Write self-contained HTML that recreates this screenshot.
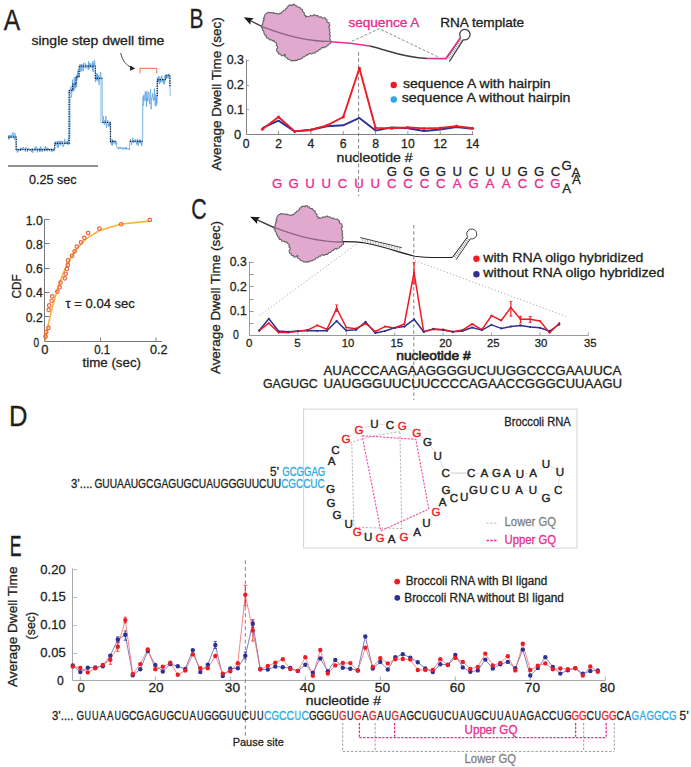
<!DOCTYPE html>
<html><head><meta charset="utf-8"><title>Figure</title>
<style>
html,body{margin:0;padding:0;background:#fff;}
body{width:691px;height:767px;overflow:hidden;}
svg{display:block;}
text{font-family:"Liberation Sans", sans-serif;}
</style></head>
<body>
<svg width="691" height="767" viewBox="0 0 691 767">
<rect width="691" height="767" fill="#fff"/>
<text x="3.80" y="30.40" font-size="29.14" fill="#231f20" stroke="#231f20" stroke-width="0.3" text-anchor="start" textLength="16.40" lengthAdjust="spacingAndGlyphs">A</text>
<text x="189.60" y="27.50" font-size="27.71" fill="#231f20" stroke="#231f20" stroke-width="0.3" text-anchor="start" textLength="14.00" lengthAdjust="spacingAndGlyphs">B</text>
<text x="191.20" y="218.50" font-size="29.0" fill="#231f20" stroke="#231f20" stroke-width="0.3" text-anchor="start" textLength="15.40" lengthAdjust="spacingAndGlyphs">C</text>
<text x="9.00" y="425.60" font-size="28.71" fill="#231f20" stroke="#231f20" stroke-width="0.3" text-anchor="start" textLength="18.50" lengthAdjust="spacingAndGlyphs">D</text>
<text x="9.80" y="555.60" font-size="28.57" fill="#231f20" stroke="#231f20" stroke-width="0.3" text-anchor="start" textLength="11.80" lengthAdjust="spacingAndGlyphs">E</text>
<polyline points="8.20,135.52 8.52,136.68 8.84,139.59 9.16,134.99 9.48,138.77 9.80,137.77 10.12,135.19 10.44,137.63 10.76,137.02 11.08,134.69 11.40,135.70 11.72,136.95 12.04,138.06 12.36,133.75 12.68,133.29 13.00,132.06 13.32,137.12 13.64,135.00 13.96,134.91 14.28,137.67 14.60,139.66 14.92,133.00 15.24,134.89 15.56,137.29 15.88,136.71 16.20,150.81 16.52,150.51 16.84,149.05 17.16,151.48 17.49,152.82 17.81,150.65 18.13,148.67 18.45,151.34 18.77,149.76 19.09,150.33 19.42,149.29 19.74,149.64 20.06,150.72 20.38,147.86 20.70,150.82 21.02,148.17 21.35,150.07 21.67,147.76 21.99,147.87 22.31,149.49 22.63,149.43 22.95,148.79 23.28,146.99 23.60,149.02 23.92,148.30 24.24,148.52 24.56,149.72 24.88,149.64 25.21,150.15 25.53,151.87 25.85,147.06 26.17,149.52 26.49,148.64 26.81,149.57 27.14,149.06 27.46,152.06 27.78,149.85 28.10,148.05 28.42,149.48 28.74,148.12 29.07,150.49 29.39,150.69 29.71,150.17 30.03,150.35 30.35,150.47 30.67,149.04 31.00,150.36 31.32,149.51 31.64,152.16 31.96,148.05 32.28,149.54 32.60,148.93 32.93,152.88 33.25,149.15 33.57,148.98 33.89,149.80 34.21,150.35 34.53,147.93 34.86,148.54 35.18,147.21 35.50,150.75 35.82,150.74 36.14,146.24 36.46,148.97 36.79,149.18 37.11,149.42 37.43,152.45 37.75,148.24 38.07,150.04 38.39,148.72 38.72,150.16 39.04,150.03 39.36,150.19 39.68,152.06 40.00,147.68 40.32,151.48 40.65,146.63 40.97,149.50 41.29,148.12 41.61,150.59 41.93,149.24 42.25,151.85 42.58,149.95 42.90,149.31 43.22,148.33 43.54,149.39 43.86,149.24 44.18,151.30 44.51,151.10 44.83,149.63 45.15,146.23 45.47,150.94 45.79,146.65 46.11,148.76 46.44,150.12 46.76,148.59 47.08,151.31 47.40,151.16 47.72,147.74 48.04,150.39 48.37,148.27 48.69,149.65 49.01,149.02 49.33,149.89 49.65,150.81 49.97,151.32 50.30,149.04 50.62,150.17 50.94,150.25 51.26,148.41 51.58,151.13 51.91,150.47 52.23,151.87 52.55,149.33 52.87,149.66 53.19,150.69 53.51,149.12 53.83,151.22 54.16,149.60 54.48,146.28 54.80,142.78 55.12,143.53 55.44,141.37 55.76,144.99 56.08,141.69 56.40,143.97 56.72,142.28 57.04,145.41 57.36,147.69 57.68,140.89 58.00,144.27 58.32,143.03 58.64,147.34 58.96,141.23 59.28,140.77 59.60,142.03 59.92,144.40 60.24,140.90 60.56,145.36 60.88,144.26 61.20,144.41 61.52,141.07 61.84,142.01 62.16,142.05 62.48,142.78 62.80,140.89 63.12,146.91 63.44,144.65 63.76,145.55 64.08,144.80 64.40,142.89 64.72,138.72 65.04,141.04 65.36,143.80 65.68,142.10 66.00,141.46 66.32,142.63 66.64,142.58 66.96,144.39 67.28,141.02 67.60,144.22 67.92,143.32 68.24,138.72 68.56,144.02 68.88,144.76 69.20,90.37 69.54,94.19 69.88,94.51 70.22,91.50 70.56,88.14 70.90,86.53 71.24,97.65 71.58,95.53 71.92,93.52 72.26,85.60 72.60,79.73 72.94,91.20 73.28,83.99 73.62,85.60 73.96,91.30 74.30,77.40 74.64,88.48 74.98,86.55 75.32,83.22 75.66,88.25 76.00,77.49 76.32,75.79 76.64,87.00 76.96,74.60 77.28,79.64 77.60,71.09 77.92,72.49 78.24,69.52 78.56,77.86 78.88,71.63 79.20,69.92 79.52,66.90 79.85,63.97 80.17,65.03 80.50,67.55 80.82,71.91 81.14,69.85 81.47,64.10 81.79,71.06 82.12,68.29 82.44,66.63 82.76,67.90 83.09,64.12 83.41,71.34 83.74,62.64 84.06,64.75 84.38,66.65 84.71,67.05 85.03,67.93 85.36,66.74 85.68,63.40 86.00,68.42 86.33,67.87 86.65,66.99 86.98,67.15 87.30,65.37 87.62,65.04 87.95,67.34 88.27,69.89 88.60,61.31 88.92,68.77 89.24,68.22 89.57,63.40 89.89,67.98 90.22,63.36 90.54,66.85 90.86,66.21 91.19,65.48 91.51,67.34 91.84,67.22 92.16,63.22 92.48,70.37 92.81,61.14 93.13,71.81 93.46,65.83 93.78,63.24 94.10,66.95 94.43,60.19 94.75,61.84 95.08,66.72 95.40,81.98 95.73,81.92 96.06,76.94 96.39,79.84 96.71,73.21 97.04,80.32 97.37,77.62 97.70,73.87 98.03,81.12 98.36,78.53 98.69,75.52 99.01,84.90 99.34,79.16 99.67,76.89 100.00,77.44 100.33,74.61 100.66,71.90 100.99,79.71 101.31,77.69 101.64,78.19 101.97,77.75 102.30,122.74 102.63,118.44 102.96,120.69 103.28,115.93 103.61,119.70 103.94,123.66 104.27,122.44 104.60,124.56 104.92,120.01 105.25,122.11 105.58,121.79 105.91,116.06 106.24,125.58 106.56,127.91 106.89,123.46 107.22,120.68 107.55,120.90 107.88,120.18 108.20,126.52 108.53,124.65 108.86,123.04 109.19,125.66 109.52,122.87 109.84,126.41 110.17,122.88 110.50,143.22 110.82,143.26 111.14,140.96 111.46,142.85 111.78,145.26 112.10,138.99 112.42,145.40 112.74,140.24 113.06,141.61 113.38,140.24 113.70,142.65 114.02,143.71 114.34,140.77 114.66,142.24 114.98,141.29 115.30,142.42 115.62,141.64 115.94,144.71 116.26,141.75 116.58,142.83 116.90,147.80 117.22,147.72 117.55,148.20 117.87,147.88 118.19,148.22 118.51,147.23 118.84,149.43 119.16,147.90 119.48,147.22 119.80,148.02 120.12,148.10 120.45,148.53 120.77,147.02 121.09,148.85 121.42,148.63 121.74,148.89 122.06,147.53 122.38,147.86 122.71,149.22 123.03,149.62 123.35,147.97 123.67,149.20 124.00,147.62 124.32,148.42 124.64,148.32 124.96,147.91 125.29,149.12 125.61,147.34 125.93,148.51 126.25,149.57 126.58,147.58 126.90,149.31 127.22,148.95 127.54,148.38 127.87,148.54 128.19,148.59 128.51,148.12 128.83,148.48 129.16,150.12 129.48,148.05 129.80,141.61 130.13,141.62 130.46,139.36 130.78,140.90 131.11,142.51 131.44,144.87 131.77,142.01 132.10,140.26 132.43,140.26 132.75,137.59 133.08,143.09 133.41,141.54 133.74,139.93 134.07,141.74 134.39,142.36 134.72,142.11 135.05,139.19 135.38,139.60 135.71,140.45 136.04,139.90 136.36,141.73 136.69,144.69 137.02,140.84 137.35,139.46 137.68,144.04 138.01,142.71 138.33,146.08 138.66,140.06 138.99,139.49 139.32,142.04 139.65,142.87 139.97,139.44 140.30,143.41 140.63,140.11 140.96,142.88 141.29,141.00 141.62,145.25 141.94,146.08 142.27,142.86 142.60,102.93 142.93,97.14 143.25,96.42 143.58,105.83 143.91,94.63 144.23,99.77 144.56,100.52 144.89,100.32 145.21,91.25 145.54,92.23 145.87,100.53 146.19,98.51 146.52,107.01 146.85,91.02 147.17,100.62 147.50,97.26 147.83,101.58 148.15,94.58 148.48,92.17 148.81,93.93 149.13,96.92 149.46,100.69 149.79,104.04 150.11,95.04 150.44,89.29 150.77,96.47 151.09,109.40 151.42,98.97 151.75,97.36 152.07,97.58 152.40,97.35 152.73,93.25 153.05,98.55 153.38,100.55 153.71,97.71 154.03,99.99 154.36,88.60 154.69,92.26 155.01,102.06 155.34,106.26 155.67,94.56 155.99,97.21 156.32,105.76 156.65,97.23 156.97,103.35 157.30,77.47 157.62,81.33 157.94,78.80 158.27,82.46 158.59,75.88 158.91,77.23 159.23,82.78 159.56,84.17 159.88,76.83 160.20,81.92 160.52,79.16 160.84,82.67 161.17,81.54 161.49,80.16 161.81,75.53 162.13,77.97 162.46,79.85 162.78,82.20 163.10,78.62 163.42,79.86 163.74,83.69 164.07,79.88 164.39,84.45 164.71,83.11 165.03,75.28 165.36,80.02 165.68,76.59 166.00,76.28 166.33,78.34 166.67,74.24 167.00,77.26 167.33,75.83 167.67,77.64 168.00,78.52 168.33,78.23 168.67,75.88 169.00,73.54 169.33,77.49 169.67,75.78 170.00,90.00 170.30,96.00" stroke="#5aa2e4" stroke-width="0.75" fill="none" stroke-linejoin="round"/>
<line x1="100.40" y1="80.00" x2="100.40" y2="123.00" stroke="#a9cff2" stroke-width="0.7"/>
<line x1="101.10" y1="79.00" x2="101.10" y2="118.00" stroke="#a9cff2" stroke-width="0.7"/>
<line x1="101.80" y1="82.00" x2="101.80" y2="121.00" stroke="#a9cff2" stroke-width="0.7"/>
<line x1="102.50" y1="78.00" x2="102.50" y2="122.00" stroke="#a9cff2" stroke-width="0.7"/>
<line x1="143.00" y1="100.00" x2="143.00" y2="138.00" stroke="#a9cff2" stroke-width="0.7"/>
<line x1="69.80" y1="93.00" x2="69.80" y2="140.00" stroke="#a9cff2" stroke-width="0.7"/>
<line x1="70.50" y1="96.00" x2="70.50" y2="138.00" stroke="#a9cff2" stroke-width="0.7"/>
<polyline points="8.20,137.20 16.20,137.20 16.20,149.50 54.80,149.50 54.80,143.40 69.20,143.40 69.20,90.30 72.60,90.30 72.60,84.20 76.00,84.20 76.00,76.60 79.20,76.60 79.20,66.00 95.40,66.00 95.40,78.40 102.30,78.40" stroke="#1a1a1a" stroke-width="1.25" fill="none" stroke-dasharray="1.2,1.2" stroke-linejoin="round" stroke-linejoin="miter"/>
<polyline points="102.30,122.40 110.50,122.40 110.50,141.40 116.90,141.40" stroke="#1a1a1a" stroke-width="1.25" fill="none" stroke-dasharray="1.2,1.2" stroke-linejoin="round" stroke-linejoin="miter"/>
<polyline points="129.80,141.40 142.60,141.40" stroke="#1a1a1a" stroke-width="1.25" fill="none" stroke-dasharray="1.2,1.2" stroke-linejoin="round" stroke-linejoin="miter"/>
<polyline points="157.30,96.30 157.30,79.50 166.00,79.50 166.00,75.40 170.00,75.40 170.00,87.00" stroke="#1a1a1a" stroke-width="1.25" fill="none" stroke-dasharray="1.2,1.2" stroke-linejoin="round" stroke-linejoin="miter"/>
<polyline points="140.10,73.30 140.10,68.30 156.80,68.30 156.80,73.30" stroke="#f15a29" stroke-width="0.9" fill="none" stroke-linejoin="round"/>
<path d="M120.6,53 Q123,64 132,68" stroke="#231f20" stroke-width="0.8" fill="none"/>
<polygon points="135.2,68.6 130.2,65.6 130.0,70.8" fill="#231f20"/>
<text x="31.50" y="45.00" font-size="12.6" fill="#231f20" stroke="#231f20" stroke-width="0.3" text-anchor="start" textLength="132.90" lengthAdjust="spacingAndGlyphs">single step dwell time</text>
<line x1="8.00" y1="166.00" x2="98.00" y2="166.00" stroke="#6d6e71" stroke-width="1.4"/>
<text x="28.90" y="183.60" font-size="13.6" fill="#231f20" stroke="#231f20" stroke-width="0.3" text-anchor="start" textLength="47.80" lengthAdjust="spacingAndGlyphs">0.25 sec</text>
<line x1="44.50" y1="219.50" x2="44.50" y2="341.50" stroke="#77787b" stroke-width="1"/>
<line x1="44.50" y1="341.50" x2="162.00" y2="341.50" stroke="#77787b" stroke-width="1"/>
<line x1="44.50" y1="316.50" x2="49.50" y2="316.50" stroke="#77787b" stroke-width="1"/>
<line x1="44.50" y1="292.50" x2="49.50" y2="292.50" stroke="#77787b" stroke-width="1"/>
<line x1="44.50" y1="268.50" x2="49.50" y2="268.50" stroke="#77787b" stroke-width="1"/>
<line x1="44.50" y1="243.50" x2="49.50" y2="243.50" stroke="#77787b" stroke-width="1"/>
<line x1="44.50" y1="219.50" x2="49.50" y2="219.50" stroke="#77787b" stroke-width="1"/>
<line x1="100.50" y1="341.40" x2="100.50" y2="337.40" stroke="#808285" stroke-width="1"/>
<line x1="156.00" y1="341.40" x2="156.00" y2="337.40" stroke="#808285" stroke-width="1"/>
<text x="42.80" y="224.60" font-size="13.2" fill="#231f20" stroke="#231f20" stroke-width="0.3" text-anchor="end" textLength="17.00" lengthAdjust="spacingAndGlyphs">1.0</text>
<text x="42.80" y="248.88" font-size="13.2" fill="#231f20" stroke="#231f20" stroke-width="0.3" text-anchor="end" textLength="17.00" lengthAdjust="spacingAndGlyphs">0.8</text>
<text x="42.80" y="273.16" font-size="13.2" fill="#231f20" stroke="#231f20" stroke-width="0.3" text-anchor="end" textLength="17.00" lengthAdjust="spacingAndGlyphs">0.6</text>
<text x="42.80" y="297.44" font-size="13.2" fill="#231f20" stroke="#231f20" stroke-width="0.3" text-anchor="end" textLength="17.00" lengthAdjust="spacingAndGlyphs">0.4</text>
<text x="42.80" y="321.72" font-size="13.2" fill="#231f20" stroke="#231f20" stroke-width="0.3" text-anchor="end" textLength="17.00" lengthAdjust="spacingAndGlyphs">0.2</text>
<text x="39.20" y="347.00" font-size="13.2" fill="#231f20" stroke="#231f20" stroke-width="0.3" text-anchor="end" textLength="5.60" lengthAdjust="spacingAndGlyphs">0</text>
<text x="44.80" y="354.40" font-size="13.2" fill="#231f20" stroke="#231f20" stroke-width="0.3" text-anchor="middle" textLength="7.20" lengthAdjust="spacingAndGlyphs">0</text>
<text x="102.20" y="354.40" font-size="13.2" fill="#231f20" stroke="#231f20" stroke-width="0.3" text-anchor="middle" textLength="16.00" lengthAdjust="spacingAndGlyphs">0.1</text>
<text x="158.80" y="354.40" font-size="13.2" fill="#231f20" stroke="#231f20" stroke-width="0.3" text-anchor="middle" textLength="17.60" lengthAdjust="spacingAndGlyphs">0.2</text>
<text x="82.60" y="366.50" font-size="13.2" fill="#231f20" stroke="#231f20" stroke-width="0.3" text-anchor="start" textLength="58.40" lengthAdjust="spacingAndGlyphs">time (sec)</text>
<text transform="translate(21.30,286.30) rotate(-90)" x="0" y="0" font-size="13.6" fill="#231f20" stroke="#231f20" stroke-width="0.3" text-anchor="middle" textLength="24.20" lengthAdjust="spacingAndGlyphs">CDF</text>
<polyline points="45.00,341.40 46.00,336.05 47.00,330.94 48.00,326.05 49.20,320.47 51.60,310.18 52.20,307.77 57.40,289.44 59.60,282.89 60.50,280.39 64.80,269.76 65.70,267.78 66.90,265.27 67.80,263.47 68.10,262.89 72.10,255.82 74.60,252.00 76.80,248.98 81.00,243.99 84.30,240.67 88.10,237.42 99.40,230.47 121.10,223.94 149.80,221.08" stroke="#f9b339" stroke-width="1.6" fill="none" stroke-linejoin="round"/>
<circle cx="149.80" cy="219.90" r="1.75" fill="none" stroke="#ee5e36" stroke-width="1.15"/>
<circle cx="121.10" cy="224.20" r="1.75" fill="none" stroke="#ee5e36" stroke-width="1.15"/>
<circle cx="99.40" cy="228.60" r="1.75" fill="none" stroke="#ee5e36" stroke-width="1.15"/>
<circle cx="88.10" cy="233.10" r="1.75" fill="none" stroke="#ee5e36" stroke-width="1.15"/>
<circle cx="84.30" cy="237.80" r="1.75" fill="none" stroke="#ee5e36" stroke-width="1.15"/>
<circle cx="81.00" cy="242.30" r="1.75" fill="none" stroke="#ee5e36" stroke-width="1.15"/>
<circle cx="76.80" cy="246.60" r="1.75" fill="none" stroke="#ee5e36" stroke-width="1.15"/>
<circle cx="74.60" cy="251.30" r="1.75" fill="none" stroke="#ee5e36" stroke-width="1.15"/>
<circle cx="72.10" cy="255.80" r="1.75" fill="none" stroke="#ee5e36" stroke-width="1.15"/>
<circle cx="68.10" cy="260.40" r="1.75" fill="none" stroke="#ee5e36" stroke-width="1.15"/>
<circle cx="67.80" cy="264.90" r="1.75" fill="none" stroke="#ee5e36" stroke-width="1.15"/>
<circle cx="66.90" cy="269.00" r="1.75" fill="none" stroke="#ee5e36" stroke-width="1.15"/>
<circle cx="65.70" cy="273.70" r="1.75" fill="none" stroke="#ee5e36" stroke-width="1.15"/>
<circle cx="64.80" cy="278.30" r="1.75" fill="none" stroke="#ee5e36" stroke-width="1.15"/>
<circle cx="60.50" cy="282.60" r="1.75" fill="none" stroke="#ee5e36" stroke-width="1.15"/>
<circle cx="59.60" cy="287.30" r="1.75" fill="none" stroke="#ee5e36" stroke-width="1.15"/>
<circle cx="57.40" cy="291.60" r="1.75" fill="none" stroke="#ee5e36" stroke-width="1.15"/>
<circle cx="52.20" cy="296.30" r="1.75" fill="none" stroke="#ee5e36" stroke-width="1.15"/>
<circle cx="51.60" cy="300.70" r="1.75" fill="none" stroke="#ee5e36" stroke-width="1.15"/>
<circle cx="49.20" cy="305.40" r="1.75" fill="none" stroke="#ee5e36" stroke-width="1.15"/>
<circle cx="48.60" cy="309.80" r="1.75" fill="none" stroke="#ee5e36" stroke-width="1.15"/>
<circle cx="48.40" cy="327.90" r="1.75" fill="none" stroke="#ee5e36" stroke-width="1.15"/>
<circle cx="46.20" cy="332.00" r="1.75" fill="none" stroke="#ee5e36" stroke-width="1.15"/>
<circle cx="45.60" cy="336.60" r="1.75" fill="none" stroke="#ee5e36" stroke-width="1.15"/>
<text x="65.60" y="307.50" font-size="13.4" fill="#231f20" stroke="#231f20" stroke-width="0.3" text-anchor="start" textLength="69.20" lengthAdjust="spacingAndGlyphs">τ = 0.04 sec</text>
<line x1="262.20" y1="26.70" x2="250.00" y2="20.50" stroke="#414042" stroke-width="1.4"/>
<polygon points="243.80,17.30 253.77,18.24 250.66,20.80 250.40,24.83" fill="#1a1a1a"/>
<polygon points="261.60,26.70 261.65,25.39 262.71,24.48 262.59,23.11 263.40,22.10 263.03,20.81 264.24,19.73 263.28,18.36 264.57,17.29 264.20,16.00 265.20,14.50 266.09,13.47 267.40,13.10 268.36,12.15 269.60,12.70 271.11,12.44 272.50,13.10 274.14,12.65 275.40,13.80 276.65,13.35 277.79,14.06 279.00,14.10 279.86,13.01 281.20,13.40 281.95,12.05 283.30,11.30 283.88,10.18 285.19,9.96 285.72,8.78 286.90,8.40 287.10,6.92 288.40,6.20 289.22,5.09 290.60,5.10 291.72,4.93 292.70,5.50 293.24,4.36 294.50,4.40 295.60,5.80 296.86,5.73 297.38,7.09 298.50,7.30 299.86,7.27 300.33,8.67 301.40,9.10 302.54,9.73 302.36,11.18 303.20,12.00 304.42,13.20 304.30,14.90 305.64,15.60 305.50,17.10 306.70,16.32 308.13,16.80 309.40,16.40 310.53,15.43 312.16,16.11 313.30,15.20 314.43,14.61 315.33,15.73 316.40,15.60 317.68,15.64 318.45,16.78 319.60,17.10 321.03,16.74 322.14,17.95 323.50,17.90 325.03,17.77 325.80,19.10 327.04,19.76 326.70,21.45 327.80,22.20 329.09,22.80 329.30,24.20 329.96,25.56 328.69,26.77 329.00,28.10 329.83,29.58 329.30,31.20 330.14,32.38 329.38,33.89 330.10,35.10 330.34,36.44 329.67,37.68 329.70,39.00 330.74,40.21 330.90,41.80 330.70,43.26 329.30,43.70 328.72,44.94 327.40,45.30 326.64,46.76 325.00,46.90 324.07,48.01 322.54,47.24 321.50,48.00 320.92,49.09 319.64,49.25 318.80,50.00 317.99,51.14 316.39,51.23 315.60,52.40 314.72,53.21 313.43,52.84 312.50,53.50 311.25,54.11 309.84,53.22 308.60,53.90 307.97,54.89 306.66,54.74 305.90,55.50 304.77,56.74 303.10,56.70 302.38,58.20 300.80,58.70 299.60,59.41 298.17,59.30 297.09,60.46 295.60,60.10 294.56,61.10 293.12,60.29 292.00,60.90 290.85,60.76 290.17,59.69 289.10,59.40 287.70,58.99 286.93,57.55 285.50,57.20 284.70,56.27 285.40,54.92 284.60,54.00 283.88,55.22 282.60,55.80 281.39,55.77 280.91,54.32 279.70,54.30 278.46,53.81 278.62,52.20 277.15,51.90 276.80,50.70 276.51,49.18 277.75,47.91 277.50,46.40 276.24,45.51 276.86,43.89 276.10,42.80 274.72,41.98 273.90,40.60 272.60,40.88 271.58,39.72 270.30,39.90 269.11,39.67 268.65,38.24 267.40,38.10 266.25,37.43 266.55,35.85 265.00,35.43 264.90,34.10 263.84,33.25 263.96,31.87 263.40,30.80 262.31,30.06 262.88,28.58 261.56,27.94" fill="#e2a9cf" stroke="#636466" stroke-width="1.1" stroke-linejoin="round"/>
<path d="M261.6,26.3 Q300.0,41.6 330.9,41.4" stroke="#8c6584" stroke-width="1.3" fill="none"/>
<path d="M330.5,41.7 Q350,42.5 369.5,46" stroke="#ec2a90" stroke-width="1.6" fill="none"/>
<path d="M369.5,46 C388,50 402,57.6 427,58.4" stroke="#414042" stroke-width="1.5" fill="none"/>
<polyline points="427.00,58.50 445.80,58.70 460.60,37.60" stroke="#ec2a90" stroke-width="1.7" fill="none" stroke-linejoin="round"/>
<line x1="449.30" y1="61.60" x2="463.40" y2="39.60" stroke="#414042" stroke-width="1.2"/>
<line x1="447.16" y1="56.80" x2="449.66" y2="58.40" stroke="#414042" stroke-width="0.6"/>
<line x1="448.28" y1="55.21" x2="450.78" y2="56.81" stroke="#414042" stroke-width="0.6"/>
<line x1="449.39" y1="53.62" x2="451.89" y2="55.22" stroke="#414042" stroke-width="0.6"/>
<line x1="450.51" y1="52.03" x2="453.01" y2="53.63" stroke="#414042" stroke-width="0.6"/>
<line x1="451.62" y1="50.44" x2="454.12" y2="52.04" stroke="#414042" stroke-width="0.6"/>
<line x1="452.74" y1="48.85" x2="455.24" y2="50.45" stroke="#414042" stroke-width="0.6"/>
<line x1="453.86" y1="47.25" x2="456.36" y2="48.85" stroke="#414042" stroke-width="0.6"/>
<line x1="454.98" y1="45.66" x2="457.48" y2="47.26" stroke="#414042" stroke-width="0.6"/>
<line x1="456.09" y1="44.07" x2="458.59" y2="45.67" stroke="#414042" stroke-width="0.6"/>
<line x1="457.21" y1="42.48" x2="459.71" y2="44.08" stroke="#414042" stroke-width="0.6"/>
<line x1="458.32" y1="40.89" x2="460.82" y2="42.49" stroke="#414042" stroke-width="0.6"/>
<line x1="459.44" y1="39.30" x2="461.94" y2="40.90" stroke="#414042" stroke-width="0.6"/>
<path d="M460.6,37.6 A5.2,5.2 0 1 1 463.4,39.6" stroke="#414042" stroke-width="1.25" fill="none"/>
<polyline points="352.00,41.20 379.30,28.70 437.90,56.90" stroke="#808285" stroke-width="0.9" fill="none" stroke-dasharray="2.8,1.8" stroke-linejoin="round"/>
<text x="348.40" y="27.10" font-size="12.4" fill="#ec2a90" stroke="#ec2a90" stroke-width="0.3" text-anchor="start" textLength="71.00" lengthAdjust="spacingAndGlyphs">sequence A</text>
<text x="440.20" y="26.90" font-size="12.4" fill="#231f20" stroke="#231f20" stroke-width="0.3" text-anchor="start" textLength="84.00" lengthAdjust="spacingAndGlyphs">RNA template</text>
<line x1="246.50" y1="59.50" x2="246.50" y2="134.50" stroke="#808285" stroke-width="1"/>
<line x1="246.50" y1="134.50" x2="473.00" y2="134.50" stroke="#808285" stroke-width="1"/>
<line x1="246.50" y1="109.50" x2="249.00" y2="109.50" stroke="#a7a9ac" stroke-width="1"/>
<line x1="246.50" y1="85.50" x2="249.00" y2="85.50" stroke="#a7a9ac" stroke-width="1"/>
<line x1="246.50" y1="60.50" x2="249.00" y2="60.50" stroke="#a7a9ac" stroke-width="1"/>
<line x1="278.54" y1="134.20" x2="278.54" y2="131.20" stroke="#808285" stroke-width="0.9"/>
<line x1="310.88" y1="134.20" x2="310.88" y2="131.20" stroke="#808285" stroke-width="0.9"/>
<line x1="343.22" y1="134.20" x2="343.22" y2="131.20" stroke="#808285" stroke-width="0.9"/>
<line x1="375.56" y1="134.20" x2="375.56" y2="131.20" stroke="#808285" stroke-width="0.9"/>
<line x1="407.90" y1="134.20" x2="407.90" y2="131.20" stroke="#808285" stroke-width="0.9"/>
<line x1="440.24" y1="134.20" x2="440.24" y2="131.20" stroke="#808285" stroke-width="0.9"/>
<line x1="472.58" y1="134.20" x2="472.58" y2="131.20" stroke="#808285" stroke-width="0.9"/>
<text x="244.00" y="64.40" font-size="12.9" fill="#231f20" stroke="#231f20" stroke-width="0.3" text-anchor="end" textLength="17.30" lengthAdjust="spacingAndGlyphs">0.3</text>
<text x="244.00" y="89.20" font-size="12.9" fill="#231f20" stroke="#231f20" stroke-width="0.3" text-anchor="end" textLength="17.30" lengthAdjust="spacingAndGlyphs">0.2</text>
<text x="244.00" y="114.00" font-size="12.9" fill="#231f20" stroke="#231f20" stroke-width="0.3" text-anchor="end" textLength="17.30" lengthAdjust="spacingAndGlyphs">0.1</text>
<text x="241.30" y="139.10" font-size="13.0" fill="#231f20" stroke="#231f20" stroke-width="0.3" text-anchor="end" textLength="7.20" lengthAdjust="spacingAndGlyphs">0</text>
<text x="246.20" y="148.20" font-size="13.2" fill="#231f20" stroke="#231f20" stroke-width="0.3" text-anchor="middle" textLength="6.80" lengthAdjust="spacingAndGlyphs">0</text>
<text x="278.54" y="148.20" font-size="13.2" fill="#231f20" stroke="#231f20" stroke-width="0.3" text-anchor="middle" textLength="6.80" lengthAdjust="spacingAndGlyphs">2</text>
<text x="310.88" y="148.20" font-size="13.2" fill="#231f20" stroke="#231f20" stroke-width="0.3" text-anchor="middle" textLength="6.80" lengthAdjust="spacingAndGlyphs">4</text>
<text x="343.22" y="148.20" font-size="13.2" fill="#231f20" stroke="#231f20" stroke-width="0.3" text-anchor="middle" textLength="6.80" lengthAdjust="spacingAndGlyphs">6</text>
<text x="375.56" y="148.20" font-size="13.2" fill="#231f20" stroke="#231f20" stroke-width="0.3" text-anchor="middle" textLength="6.80" lengthAdjust="spacingAndGlyphs">8</text>
<text x="407.90" y="148.20" font-size="13.2" fill="#231f20" stroke="#231f20" stroke-width="0.3" text-anchor="middle" textLength="13.60" lengthAdjust="spacingAndGlyphs">10</text>
<text x="440.24" y="148.20" font-size="13.2" fill="#231f20" stroke="#231f20" stroke-width="0.3" text-anchor="middle" textLength="13.60" lengthAdjust="spacingAndGlyphs">12</text>
<text x="472.58" y="148.20" font-size="13.2" fill="#231f20" stroke="#231f20" stroke-width="0.3" text-anchor="middle" textLength="13.60" lengthAdjust="spacingAndGlyphs">14</text>
<text transform="translate(221.30,93.80) rotate(-90)" x="0" y="0" font-size="13.1" fill="#231f20" stroke="#231f20" stroke-width="0.3" text-anchor="middle" textLength="153.20" lengthAdjust="spacingAndGlyphs">Average Dwell Time (sec)</text>
<text x="336.60" y="162.30" font-size="12.8" fill="#231f20" stroke="#231f20" stroke-width="0.3" text-anchor="start" textLength="76.00" lengthAdjust="spacingAndGlyphs">nucleotide #</text>
<line x1="358.60" y1="52.10" x2="358.60" y2="196.00" stroke="#808285" stroke-width="1.0" stroke-dasharray="3.6,2.6"/>
<polyline points="262.37,128.00 278.54,120.60 294.71,131.40 310.88,129.70 327.05,126.20 343.22,125.30 359.39,117.90 375.56,130.60 391.73,127.40 407.90,128.30 424.07,131.00 440.24,129.50 456.41,127.00 472.58,128.80" stroke="#2e3192" stroke-width="1.9" fill="none" stroke-linejoin="round"/>
<polyline points="262.37,129.30 278.54,117.00 294.71,131.40 310.88,130.00 327.05,125.30 343.22,117.00 359.39,68.30 375.56,127.90 391.73,128.30 407.90,127.40 424.07,128.40 440.24,127.90 456.41,126.10 472.58,128.30" stroke="#ed1c24" stroke-width="1.9" fill="none" stroke-linejoin="round"/>
<circle cx="262.37" cy="129.30" r="1.5" fill="#ed1c24" stroke="none" stroke-width="1"/>
<circle cx="278.54" cy="117.00" r="1.5" fill="#ed1c24" stroke="none" stroke-width="1"/>
<circle cx="294.71" cy="131.40" r="1.5" fill="#ed1c24" stroke="none" stroke-width="1"/>
<circle cx="310.88" cy="130.00" r="1.5" fill="#ed1c24" stroke="none" stroke-width="1"/>
<circle cx="327.05" cy="125.30" r="1.5" fill="#ed1c24" stroke="none" stroke-width="1"/>
<circle cx="343.22" cy="117.00" r="1.5" fill="#ed1c24" stroke="none" stroke-width="1"/>
<circle cx="359.39" cy="68.30" r="1.5" fill="#ed1c24" stroke="none" stroke-width="1"/>
<circle cx="375.56" cy="127.90" r="1.5" fill="#ed1c24" stroke="none" stroke-width="1"/>
<circle cx="391.73" cy="128.30" r="1.5" fill="#ed1c24" stroke="none" stroke-width="1"/>
<circle cx="407.90" cy="127.40" r="1.5" fill="#ed1c24" stroke="none" stroke-width="1"/>
<circle cx="424.07" cy="128.40" r="1.5" fill="#ed1c24" stroke="none" stroke-width="1"/>
<circle cx="440.24" cy="127.90" r="1.5" fill="#ed1c24" stroke="none" stroke-width="1"/>
<circle cx="456.41" cy="126.10" r="1.5" fill="#ed1c24" stroke="none" stroke-width="1"/>
<circle cx="472.58" cy="128.30" r="1.5" fill="#ed1c24" stroke="none" stroke-width="1"/>
<circle cx="393.70" cy="85.00" r="3.2" fill="#ed1c24" stroke="none" stroke-width="1"/>
<circle cx="393.80" cy="99.50" r="3.2" fill="#29abe2" stroke="none" stroke-width="1"/>
<text x="402.90" y="87.90" font-size="13.0" fill="#231f20" stroke="#231f20" stroke-width="0.3" text-anchor="start" textLength="147.80" lengthAdjust="spacingAndGlyphs">sequence A with hairpin</text>
<text x="401.70" y="102.40" font-size="13.0" fill="#231f20" stroke="#231f20" stroke-width="0.3" text-anchor="start" textLength="168.80" lengthAdjust="spacingAndGlyphs">sequence A without hairpin</text>
<text x="277.20" y="187.90" font-size="13.2" fill="#ec2a90" stroke="#ec2a90" stroke-width="0.3" text-anchor="middle">G</text>
<text x="293.56" y="187.90" font-size="13.2" fill="#ec2a90" stroke="#ec2a90" stroke-width="0.3" text-anchor="middle">G</text>
<text x="309.92" y="187.90" font-size="13.2" fill="#ec2a90" stroke="#ec2a90" stroke-width="0.3" text-anchor="middle">U</text>
<text x="326.28" y="187.90" font-size="13.2" fill="#ec2a90" stroke="#ec2a90" stroke-width="0.3" text-anchor="middle">U</text>
<text x="342.64" y="187.90" font-size="13.2" fill="#ec2a90" stroke="#ec2a90" stroke-width="0.3" text-anchor="middle">C</text>
<text x="359.00" y="187.90" font-size="13.2" fill="#ec2a90" stroke="#ec2a90" stroke-width="0.3" text-anchor="middle">U</text>
<text x="375.36" y="187.90" font-size="13.2" fill="#ec2a90" stroke="#ec2a90" stroke-width="0.3" text-anchor="middle">U</text>
<text x="391.72" y="187.90" font-size="13.2" fill="#ec2a90" stroke="#ec2a90" stroke-width="0.3" text-anchor="middle">C</text>
<text x="408.08" y="187.90" font-size="13.2" fill="#ec2a90" stroke="#ec2a90" stroke-width="0.3" text-anchor="middle">C</text>
<text x="424.44" y="187.90" font-size="13.2" fill="#ec2a90" stroke="#ec2a90" stroke-width="0.3" text-anchor="middle">C</text>
<text x="440.80" y="187.90" font-size="13.2" fill="#ec2a90" stroke="#ec2a90" stroke-width="0.3" text-anchor="middle">C</text>
<text x="457.16" y="187.90" font-size="13.2" fill="#ec2a90" stroke="#ec2a90" stroke-width="0.3" text-anchor="middle">A</text>
<text x="473.52" y="187.90" font-size="13.2" fill="#ec2a90" stroke="#ec2a90" stroke-width="0.3" text-anchor="middle">G</text>
<text x="489.88" y="187.90" font-size="13.2" fill="#ec2a90" stroke="#ec2a90" stroke-width="0.3" text-anchor="middle">A</text>
<text x="506.24" y="187.90" font-size="13.2" fill="#ec2a90" stroke="#ec2a90" stroke-width="0.3" text-anchor="middle">A</text>
<text x="522.60" y="187.90" font-size="13.2" fill="#ec2a90" stroke="#ec2a90" stroke-width="0.3" text-anchor="middle">C</text>
<text x="538.96" y="187.90" font-size="13.2" fill="#ec2a90" stroke="#ec2a90" stroke-width="0.3" text-anchor="middle">C</text>
<text x="555.32" y="187.90" font-size="13.2" fill="#ec2a90" stroke="#ec2a90" stroke-width="0.3" text-anchor="middle">G</text>
<text x="391.80" y="176.00" font-size="13.2" fill="#231f20" stroke="#231f20" stroke-width="0.3" text-anchor="middle">G</text>
<text x="408.16" y="176.00" font-size="13.2" fill="#231f20" stroke="#231f20" stroke-width="0.3" text-anchor="middle">G</text>
<text x="424.52" y="176.00" font-size="13.2" fill="#231f20" stroke="#231f20" stroke-width="0.3" text-anchor="middle">G</text>
<text x="440.88" y="176.00" font-size="13.2" fill="#231f20" stroke="#231f20" stroke-width="0.3" text-anchor="middle">G</text>
<text x="457.24" y="176.00" font-size="13.2" fill="#231f20" stroke="#231f20" stroke-width="0.3" text-anchor="middle">U</text>
<text x="473.60" y="176.00" font-size="13.2" fill="#231f20" stroke="#231f20" stroke-width="0.3" text-anchor="middle">C</text>
<text x="489.96" y="176.00" font-size="13.2" fill="#231f20" stroke="#231f20" stroke-width="0.3" text-anchor="middle">U</text>
<text x="506.32" y="176.00" font-size="13.2" fill="#231f20" stroke="#231f20" stroke-width="0.3" text-anchor="middle">U</text>
<text x="522.68" y="176.00" font-size="13.2" fill="#231f20" stroke="#231f20" stroke-width="0.3" text-anchor="middle">G</text>
<text x="539.04" y="176.00" font-size="13.2" fill="#231f20" stroke="#231f20" stroke-width="0.3" text-anchor="middle">G</text>
<text x="555.40" y="176.00" font-size="13.2" fill="#231f20" stroke="#231f20" stroke-width="0.3" text-anchor="middle">C</text>
<text x="566.70" y="170.40" font-size="13.2" fill="#231f20" stroke="#231f20" stroke-width="0.3" text-anchor="middle">G</text>
<text x="575.90" y="177.00" font-size="13.2" fill="#231f20" stroke="#231f20" stroke-width="0.3" text-anchor="middle">A</text>
<text x="576.40" y="184.00" font-size="13.2" fill="#231f20" stroke="#231f20" stroke-width="0.3" text-anchor="middle">A</text>
<text x="566.70" y="193.00" font-size="13.2" fill="#231f20" stroke="#231f20" stroke-width="0.3" text-anchor="middle">A</text>
<line x1="275.00" y1="228.00" x2="256.00" y2="219.40" stroke="#414042" stroke-width="1.4"/>
<polygon points="250.10,216.80 260.10,217.17 257.14,219.91 257.11,223.94" fill="#1a1a1a"/>
<polygon points="274.20,228.00 274.25,226.69 275.31,225.78 275.19,224.41 276.00,223.40 275.63,222.11 276.84,221.03 275.88,219.66 277.17,218.59 276.80,217.30 277.80,215.80 278.69,214.77 280.00,214.40 280.96,213.45 282.20,214.00 283.71,213.74 285.10,214.40 286.74,213.95 288.00,215.10 289.25,214.65 290.39,215.36 291.60,215.40 292.46,214.31 293.80,214.70 294.55,213.35 295.90,212.60 296.48,211.48 297.79,211.26 298.32,210.08 299.50,209.70 299.70,208.22 301.00,207.50 301.82,206.39 303.20,206.40 304.32,206.23 305.30,206.80 305.84,205.66 307.10,205.70 308.20,207.10 309.46,207.03 309.98,208.39 311.10,208.60 312.46,208.57 312.93,209.97 314.00,210.40 315.14,211.03 314.96,212.48 315.80,213.30 317.02,214.50 316.90,216.20 318.24,216.90 318.10,218.40 319.30,217.62 320.73,218.10 322.00,217.70 323.13,216.73 324.76,217.41 325.90,216.50 327.03,215.91 327.93,217.03 329.00,216.90 330.28,216.94 331.05,218.08 332.20,218.40 333.63,218.04 334.74,219.25 336.10,219.20 337.63,219.07 338.40,220.40 339.64,221.06 339.30,222.75 340.40,223.50 341.69,224.10 341.90,225.50 342.56,226.86 341.29,228.07 341.60,229.40 342.43,230.88 341.90,232.50 342.74,233.68 341.98,235.19 342.70,236.40 342.94,237.74 342.27,238.98 342.30,240.30 343.34,241.51 343.50,243.10 343.30,244.56 341.90,245.00 341.32,246.24 340.00,246.60 339.24,248.06 337.60,248.20 336.67,249.31 335.14,248.54 334.10,249.30 333.52,250.39 332.24,250.55 331.40,251.30 330.59,252.44 328.99,252.53 328.20,253.70 327.32,254.51 326.03,254.14 325.10,254.80 323.85,255.41 322.44,254.52 321.20,255.20 320.57,256.19 319.26,256.04 318.50,256.80 317.37,258.04 315.70,258.00 314.98,259.50 313.40,260.00 312.20,260.71 310.77,260.60 309.69,261.76 308.20,261.40 307.16,262.40 305.72,261.59 304.60,262.20 303.45,262.06 302.77,260.99 301.70,260.70 300.30,260.29 299.53,258.85 298.10,258.50 297.30,257.57 298.00,256.22 297.20,255.30 296.48,256.52 295.20,257.10 293.99,257.07 293.51,255.62 292.30,255.60 291.06,255.11 291.22,253.50 289.75,253.20 289.40,252.00 289.11,250.48 290.35,249.21 290.10,247.70 288.84,246.81 289.46,245.19 288.70,244.10 287.32,243.28 286.50,241.90 285.20,242.18 284.18,241.02 282.90,241.20 281.71,240.97 281.25,239.54 280.00,239.40 278.85,238.73 279.15,237.15 277.60,236.73 277.50,235.40 276.44,234.55 276.56,233.17 276.00,232.10 274.91,231.36 275.48,229.88 274.16,229.24" fill="#e2a9cf" stroke="#636466" stroke-width="1.1" stroke-linejoin="round"/>
<path d="M274.2,227.3 Q312.6,242.4 343.5,242.0" stroke="#8c6584" stroke-width="1.3" fill="none"/>
<path d="M343.1,241.6 C352,241.6 358,241.8 365,243 C385,246.5 400,253 415,256.2 C425,258 440,257.6 452.4,257.4" stroke="#231f20" stroke-width="1.1" fill="none"/>
<line x1="360.30" y1="237.60" x2="401.80" y2="247.70" stroke="#414042" stroke-width="1.0"/>
<line x1="362.14" y1="238.63" x2="362.54" y2="241.23" stroke="#58595b" stroke-width="0.5"/>
<line x1="364.82" y1="239.30" x2="365.22" y2="241.90" stroke="#58595b" stroke-width="0.5"/>
<line x1="367.50" y1="239.97" x2="367.90" y2="242.57" stroke="#58595b" stroke-width="0.5"/>
<line x1="370.18" y1="240.63" x2="370.58" y2="243.23" stroke="#58595b" stroke-width="0.5"/>
<line x1="372.86" y1="241.30" x2="373.26" y2="243.90" stroke="#58595b" stroke-width="0.5"/>
<line x1="375.54" y1="241.97" x2="375.94" y2="244.57" stroke="#58595b" stroke-width="0.5"/>
<line x1="378.22" y1="242.63" x2="378.62" y2="245.23" stroke="#58595b" stroke-width="0.5"/>
<line x1="380.90" y1="243.30" x2="381.30" y2="245.90" stroke="#58595b" stroke-width="0.5"/>
<line x1="383.58" y1="243.97" x2="383.98" y2="246.57" stroke="#58595b" stroke-width="0.5"/>
<line x1="386.26" y1="244.63" x2="386.66" y2="247.23" stroke="#58595b" stroke-width="0.5"/>
<line x1="388.94" y1="245.30" x2="389.34" y2="247.90" stroke="#58595b" stroke-width="0.5"/>
<line x1="391.62" y1="245.97" x2="392.02" y2="248.57" stroke="#58595b" stroke-width="0.5"/>
<line x1="394.30" y1="246.63" x2="394.70" y2="249.23" stroke="#58595b" stroke-width="0.5"/>
<line x1="396.98" y1="247.30" x2="397.38" y2="249.90" stroke="#58595b" stroke-width="0.5"/>
<line x1="399.66" y1="247.97" x2="400.06" y2="250.57" stroke="#58595b" stroke-width="0.5"/>
<line x1="452.40" y1="257.40" x2="467.60" y2="236.80" stroke="#231f20" stroke-width="1.0"/>
<line x1="456.00" y1="259.80" x2="470.40" y2="238.80" stroke="#414042" stroke-width="1.0"/>
<line x1="453.80" y1="256.00" x2="456.20" y2="257.70" stroke="#414042" stroke-width="0.55"/>
<line x1="455.00" y1="254.40" x2="457.40" y2="256.10" stroke="#414042" stroke-width="0.55"/>
<line x1="456.20" y1="252.80" x2="458.60" y2="254.50" stroke="#414042" stroke-width="0.55"/>
<line x1="457.40" y1="251.20" x2="459.80" y2="252.90" stroke="#414042" stroke-width="0.55"/>
<line x1="458.60" y1="249.60" x2="461.00" y2="251.30" stroke="#414042" stroke-width="0.55"/>
<line x1="459.80" y1="248.00" x2="462.20" y2="249.70" stroke="#414042" stroke-width="0.55"/>
<line x1="461.00" y1="246.40" x2="463.40" y2="248.10" stroke="#414042" stroke-width="0.55"/>
<line x1="462.20" y1="244.80" x2="464.60" y2="246.50" stroke="#414042" stroke-width="0.55"/>
<line x1="463.40" y1="243.20" x2="465.80" y2="244.90" stroke="#414042" stroke-width="0.55"/>
<line x1="464.60" y1="241.60" x2="467.00" y2="243.30" stroke="#414042" stroke-width="0.55"/>
<line x1="465.80" y1="240.00" x2="468.20" y2="241.70" stroke="#414042" stroke-width="0.55"/>
<line x1="467.00" y1="238.40" x2="469.40" y2="240.10" stroke="#414042" stroke-width="0.55"/>
<path d="M467.6,236.8 A5.0,5.0 0 1 1 470.4,238.8" stroke="#414042" stroke-width="1.0" fill="none"/>
<line x1="259.70" y1="315.30" x2="357.00" y2="243.60" stroke="#939598" stroke-width="0.8" stroke-dasharray="1.2,2.2"/>
<line x1="414.90" y1="260.60" x2="566.30" y2="316.50" stroke="#939598" stroke-width="0.8" stroke-dasharray="1.2,2.2"/>
<line x1="249.50" y1="261.50" x2="249.50" y2="335.50" stroke="#97999c" stroke-width="1"/>
<line x1="249.50" y1="335.50" x2="588.50" y2="335.50" stroke="#97999c" stroke-width="1"/>
<line x1="249.50" y1="323.50" x2="253.50" y2="323.50" stroke="#97999c" stroke-width="1"/>
<line x1="249.50" y1="311.50" x2="253.50" y2="311.50" stroke="#97999c" stroke-width="1"/>
<line x1="249.50" y1="299.50" x2="253.50" y2="299.50" stroke="#97999c" stroke-width="1"/>
<line x1="249.50" y1="286.50" x2="253.50" y2="286.50" stroke="#97999c" stroke-width="1"/>
<line x1="249.50" y1="274.50" x2="253.50" y2="274.50" stroke="#97999c" stroke-width="1"/>
<line x1="249.50" y1="262.50" x2="253.50" y2="262.50" stroke="#97999c" stroke-width="1"/>
<line x1="297.90" y1="335.40" x2="297.90" y2="332.40" stroke="#97999c" stroke-width="0.9"/>
<line x1="346.30" y1="335.40" x2="346.30" y2="332.40" stroke="#97999c" stroke-width="0.9"/>
<line x1="394.70" y1="335.40" x2="394.70" y2="332.40" stroke="#97999c" stroke-width="0.9"/>
<line x1="443.10" y1="335.40" x2="443.10" y2="332.40" stroke="#97999c" stroke-width="0.9"/>
<line x1="491.50" y1="335.40" x2="491.50" y2="332.40" stroke="#97999c" stroke-width="0.9"/>
<line x1="539.90" y1="335.40" x2="539.90" y2="332.40" stroke="#97999c" stroke-width="0.9"/>
<line x1="588.30" y1="335.40" x2="588.30" y2="332.40" stroke="#97999c" stroke-width="0.9"/>
<text x="246.70" y="266.30" font-size="12.8" fill="#231f20" stroke="#231f20" stroke-width="0.3" text-anchor="end" textLength="17.00" lengthAdjust="spacingAndGlyphs">0.3</text>
<text x="246.70" y="290.80" font-size="12.8" fill="#231f20" stroke="#231f20" stroke-width="0.3" text-anchor="end" textLength="17.00" lengthAdjust="spacingAndGlyphs">0.2</text>
<text x="246.70" y="315.30" font-size="12.8" fill="#231f20" stroke="#231f20" stroke-width="0.3" text-anchor="end" textLength="17.00" lengthAdjust="spacingAndGlyphs">0.1</text>
<text x="238.90" y="338.90" font-size="12.0" fill="#231f20" stroke="#231f20" stroke-width="0.3" text-anchor="end" textLength="5.80" lengthAdjust="spacingAndGlyphs">0</text>
<text x="249.30" y="346.90" font-size="11.8" fill="#231f20" stroke="#231f20" stroke-width="0.3" text-anchor="middle" textLength="6.40" lengthAdjust="spacingAndGlyphs">0</text>
<text x="297.40" y="346.90" font-size="11.8" fill="#231f20" stroke="#231f20" stroke-width="0.3" text-anchor="middle" textLength="6.40" lengthAdjust="spacingAndGlyphs">5</text>
<text x="348.00" y="346.90" font-size="11.8" fill="#231f20" stroke="#231f20" stroke-width="0.3" text-anchor="middle" textLength="12.60" lengthAdjust="spacingAndGlyphs">10</text>
<text x="396.80" y="346.90" font-size="11.8" fill="#231f20" stroke="#231f20" stroke-width="0.3" text-anchor="middle" textLength="12.60" lengthAdjust="spacingAndGlyphs">15</text>
<text x="445.50" y="346.90" font-size="11.8" fill="#231f20" stroke="#231f20" stroke-width="0.3" text-anchor="middle" textLength="12.60" lengthAdjust="spacingAndGlyphs">20</text>
<text x="493.20" y="346.90" font-size="11.8" fill="#231f20" stroke="#231f20" stroke-width="0.3" text-anchor="middle" textLength="12.60" lengthAdjust="spacingAndGlyphs">25</text>
<text x="541.00" y="346.90" font-size="11.8" fill="#231f20" stroke="#231f20" stroke-width="0.3" text-anchor="middle" textLength="12.60" lengthAdjust="spacingAndGlyphs">30</text>
<text x="590.20" y="346.90" font-size="11.8" fill="#231f20" stroke="#231f20" stroke-width="0.3" text-anchor="middle" textLength="12.60" lengthAdjust="spacingAndGlyphs">35</text>
<text transform="translate(220.40,297.60) rotate(-90)" x="0" y="0" font-size="13.1" fill="#231f20" stroke="#231f20" stroke-width="0.3" text-anchor="middle" textLength="153.00" lengthAdjust="spacingAndGlyphs">Average Dwell Time (sec)</text>
<text x="396.2" y="360.0" font-size="12.6" fill="#231f20" stroke="#231f20" stroke-width="0.6" textLength="74.6" lengthAdjust="spacingAndGlyphs">nucleotide #</text>
<line x1="413.80" y1="225.00" x2="413.80" y2="400.00" stroke="#808285" stroke-width="1.0" stroke-dasharray="3.6,2.6"/>
<polyline points="259.18,330.60 268.86,318.80 278.54,331.00 288.22,331.80 297.90,331.00 307.58,330.40 317.26,330.80 326.94,330.80 336.62,321.00 346.30,330.60 355.98,329.80 365.66,321.90 375.34,333.00 385.02,331.00 394.70,327.80 404.38,326.60 414.06,319.30 423.74,331.80 433.42,328.90 443.10,330.10 452.78,331.80 462.46,331.00 472.14,327.50 481.82,330.10 491.50,324.90 501.18,328.40 510.86,326.60 520.54,325.40 530.22,327.00 539.90,327.80 549.58,331.00 559.26,324.50" stroke="#2e3192" stroke-width="1.5" fill="none" stroke-linejoin="round"/>
<polyline points="259.18,330.60 268.86,323.20 278.54,332.40 288.22,332.40 297.90,331.30 307.58,330.10 317.26,325.40 326.94,329.20 336.62,308.40 346.30,327.50 355.98,328.70 365.66,323.50 375.34,331.50 385.02,326.60 394.70,328.00 404.38,324.00 414.06,272.50 423.74,331.80 433.42,329.20 443.10,329.60 452.78,331.80 462.46,330.10 472.14,324.00 481.82,329.60 491.50,315.70 501.18,320.50 510.86,307.50 520.54,319.30 530.22,319.30 539.90,321.00 549.58,332.70 559.26,323.20" stroke="#ed1c24" stroke-width="1.5" fill="none" stroke-linejoin="round"/>
<line x1="336.62" y1="304.90" x2="336.62" y2="311.50" stroke="#ed1c24" stroke-width="1.2"/>
<line x1="335.12" y1="304.90" x2="338.12" y2="304.90" stroke="#ed1c24" stroke-width="0.8"/>
<line x1="335.12" y1="311.50" x2="338.12" y2="311.50" stroke="#ed1c24" stroke-width="0.8"/>
<line x1="414.06" y1="262.40" x2="414.06" y2="284.00" stroke="#ed1c24" stroke-width="1.2"/>
<line x1="412.56" y1="262.40" x2="415.56" y2="262.40" stroke="#ed1c24" stroke-width="0.8"/>
<line x1="412.56" y1="284.00" x2="415.56" y2="284.00" stroke="#ed1c24" stroke-width="0.8"/>
<line x1="510.86" y1="301.40" x2="510.86" y2="316.20" stroke="#ed1c24" stroke-width="1.2"/>
<line x1="509.36" y1="301.40" x2="512.36" y2="301.40" stroke="#ed1c24" stroke-width="0.8"/>
<line x1="509.36" y1="316.20" x2="512.36" y2="316.20" stroke="#ed1c24" stroke-width="0.8"/>
<line x1="520.54" y1="316.20" x2="520.54" y2="323.00" stroke="#ed1c24" stroke-width="1.2"/>
<line x1="519.04" y1="316.20" x2="522.04" y2="316.20" stroke="#ed1c24" stroke-width="0.8"/>
<line x1="519.04" y1="323.00" x2="522.04" y2="323.00" stroke="#ed1c24" stroke-width="0.8"/>
<line x1="530.22" y1="316.50" x2="530.22" y2="322.50" stroke="#ed1c24" stroke-width="1.2"/>
<line x1="528.72" y1="316.50" x2="531.72" y2="316.50" stroke="#ed1c24" stroke-width="0.8"/>
<line x1="528.72" y1="322.50" x2="531.72" y2="322.50" stroke="#ed1c24" stroke-width="0.8"/>
<circle cx="259.18" cy="330.60" r="1.1" fill="#ed1c24" stroke="none" stroke-width="1"/>
<circle cx="268.86" cy="323.20" r="1.1" fill="#ed1c24" stroke="none" stroke-width="1"/>
<circle cx="278.54" cy="332.40" r="1.1" fill="#ed1c24" stroke="none" stroke-width="1"/>
<circle cx="288.22" cy="332.40" r="1.1" fill="#ed1c24" stroke="none" stroke-width="1"/>
<circle cx="297.90" cy="331.30" r="1.1" fill="#ed1c24" stroke="none" stroke-width="1"/>
<circle cx="307.58" cy="330.10" r="1.1" fill="#ed1c24" stroke="none" stroke-width="1"/>
<circle cx="317.26" cy="325.40" r="1.1" fill="#ed1c24" stroke="none" stroke-width="1"/>
<circle cx="326.94" cy="329.20" r="1.1" fill="#ed1c24" stroke="none" stroke-width="1"/>
<circle cx="336.62" cy="308.40" r="1.1" fill="#ed1c24" stroke="none" stroke-width="1"/>
<circle cx="346.30" cy="327.50" r="1.1" fill="#ed1c24" stroke="none" stroke-width="1"/>
<circle cx="355.98" cy="328.70" r="1.1" fill="#ed1c24" stroke="none" stroke-width="1"/>
<circle cx="365.66" cy="323.50" r="1.1" fill="#ed1c24" stroke="none" stroke-width="1"/>
<circle cx="375.34" cy="331.50" r="1.1" fill="#ed1c24" stroke="none" stroke-width="1"/>
<circle cx="385.02" cy="326.60" r="1.1" fill="#ed1c24" stroke="none" stroke-width="1"/>
<circle cx="394.70" cy="328.00" r="1.1" fill="#ed1c24" stroke="none" stroke-width="1"/>
<circle cx="404.38" cy="324.00" r="1.1" fill="#ed1c24" stroke="none" stroke-width="1"/>
<circle cx="414.06" cy="272.50" r="1.1" fill="#ed1c24" stroke="none" stroke-width="1"/>
<circle cx="423.74" cy="331.80" r="1.1" fill="#ed1c24" stroke="none" stroke-width="1"/>
<circle cx="433.42" cy="329.20" r="1.1" fill="#ed1c24" stroke="none" stroke-width="1"/>
<circle cx="443.10" cy="329.60" r="1.1" fill="#ed1c24" stroke="none" stroke-width="1"/>
<circle cx="452.78" cy="331.80" r="1.1" fill="#ed1c24" stroke="none" stroke-width="1"/>
<circle cx="462.46" cy="330.10" r="1.1" fill="#ed1c24" stroke="none" stroke-width="1"/>
<circle cx="472.14" cy="324.00" r="1.1" fill="#ed1c24" stroke="none" stroke-width="1"/>
<circle cx="481.82" cy="329.60" r="1.1" fill="#ed1c24" stroke="none" stroke-width="1"/>
<circle cx="491.50" cy="315.70" r="1.1" fill="#ed1c24" stroke="none" stroke-width="1"/>
<circle cx="501.18" cy="320.50" r="1.1" fill="#ed1c24" stroke="none" stroke-width="1"/>
<circle cx="510.86" cy="307.50" r="1.1" fill="#ed1c24" stroke="none" stroke-width="1"/>
<circle cx="520.54" cy="319.30" r="1.1" fill="#ed1c24" stroke="none" stroke-width="1"/>
<circle cx="530.22" cy="319.30" r="1.1" fill="#ed1c24" stroke="none" stroke-width="1"/>
<circle cx="539.90" cy="321.00" r="1.1" fill="#ed1c24" stroke="none" stroke-width="1"/>
<circle cx="549.58" cy="332.70" r="1.1" fill="#ed1c24" stroke="none" stroke-width="1"/>
<circle cx="559.26" cy="323.20" r="1.1" fill="#ed1c24" stroke="none" stroke-width="1"/>
<circle cx="259.18" cy="330.60" r="1.1" fill="#2e3192" stroke="none" stroke-width="1"/>
<circle cx="268.86" cy="318.80" r="1.1" fill="#2e3192" stroke="none" stroke-width="1"/>
<circle cx="278.54" cy="331.00" r="1.1" fill="#2e3192" stroke="none" stroke-width="1"/>
<circle cx="288.22" cy="331.80" r="1.1" fill="#2e3192" stroke="none" stroke-width="1"/>
<circle cx="297.90" cy="331.00" r="1.1" fill="#2e3192" stroke="none" stroke-width="1"/>
<circle cx="307.58" cy="330.40" r="1.1" fill="#2e3192" stroke="none" stroke-width="1"/>
<circle cx="317.26" cy="330.80" r="1.1" fill="#2e3192" stroke="none" stroke-width="1"/>
<circle cx="326.94" cy="330.80" r="1.1" fill="#2e3192" stroke="none" stroke-width="1"/>
<circle cx="336.62" cy="321.00" r="1.1" fill="#2e3192" stroke="none" stroke-width="1"/>
<circle cx="346.30" cy="330.60" r="1.1" fill="#2e3192" stroke="none" stroke-width="1"/>
<circle cx="355.98" cy="329.80" r="1.1" fill="#2e3192" stroke="none" stroke-width="1"/>
<circle cx="365.66" cy="321.90" r="1.1" fill="#2e3192" stroke="none" stroke-width="1"/>
<circle cx="375.34" cy="333.00" r="1.1" fill="#2e3192" stroke="none" stroke-width="1"/>
<circle cx="385.02" cy="331.00" r="1.1" fill="#2e3192" stroke="none" stroke-width="1"/>
<circle cx="394.70" cy="327.80" r="1.1" fill="#2e3192" stroke="none" stroke-width="1"/>
<circle cx="404.38" cy="326.60" r="1.1" fill="#2e3192" stroke="none" stroke-width="1"/>
<circle cx="414.06" cy="319.30" r="1.1" fill="#2e3192" stroke="none" stroke-width="1"/>
<circle cx="423.74" cy="331.80" r="1.1" fill="#2e3192" stroke="none" stroke-width="1"/>
<circle cx="433.42" cy="328.90" r="1.1" fill="#2e3192" stroke="none" stroke-width="1"/>
<circle cx="443.10" cy="330.10" r="1.1" fill="#2e3192" stroke="none" stroke-width="1"/>
<circle cx="452.78" cy="331.80" r="1.1" fill="#2e3192" stroke="none" stroke-width="1"/>
<circle cx="462.46" cy="331.00" r="1.1" fill="#2e3192" stroke="none" stroke-width="1"/>
<circle cx="472.14" cy="327.50" r="1.1" fill="#2e3192" stroke="none" stroke-width="1"/>
<circle cx="481.82" cy="330.10" r="1.1" fill="#2e3192" stroke="none" stroke-width="1"/>
<circle cx="491.50" cy="324.90" r="1.1" fill="#2e3192" stroke="none" stroke-width="1"/>
<circle cx="501.18" cy="328.40" r="1.1" fill="#2e3192" stroke="none" stroke-width="1"/>
<circle cx="510.86" cy="326.60" r="1.1" fill="#2e3192" stroke="none" stroke-width="1"/>
<circle cx="520.54" cy="325.40" r="1.1" fill="#2e3192" stroke="none" stroke-width="1"/>
<circle cx="530.22" cy="327.00" r="1.1" fill="#2e3192" stroke="none" stroke-width="1"/>
<circle cx="539.90" cy="327.80" r="1.1" fill="#2e3192" stroke="none" stroke-width="1"/>
<circle cx="549.58" cy="331.00" r="1.1" fill="#2e3192" stroke="none" stroke-width="1"/>
<circle cx="559.26" cy="324.50" r="1.1" fill="#2e3192" stroke="none" stroke-width="1"/>
<circle cx="476.40" cy="258.70" r="3.2" fill="#ed1c24" stroke="none" stroke-width="1"/>
<circle cx="476.40" cy="274.20" r="3.2" fill="#2e3192" stroke="none" stroke-width="1"/>
<text x="483.20" y="261.50" font-size="13.0" fill="#231f20" stroke="#231f20" stroke-width="0.3" text-anchor="start" textLength="160.20" lengthAdjust="spacingAndGlyphs">with RNA oligo hybridized</text>
<text x="483.20" y="276.80" font-size="13.0" fill="#231f20" stroke="#231f20" stroke-width="0.3" text-anchor="start" textLength="181.20" lengthAdjust="spacingAndGlyphs">without RNA oligo hybridized</text>
<text x="323.40" y="374.70" font-size="13.4" fill="#231f20" stroke="#231f20" stroke-width="0.3" text-anchor="start" textLength="297.90" lengthAdjust="spacingAndGlyphs">AUACCCAAGAAGGGGUCUUGGCCCGAAUUCA</text>
<text x="262.90" y="387.60" font-size="13.4" fill="#231f20" stroke="#231f20" stroke-width="0.3" text-anchor="start" textLength="54.90" lengthAdjust="spacingAndGlyphs">GAGUGC</text>
<text x="323.40" y="387.60" font-size="13.4" fill="#231f20" stroke="#231f20" stroke-width="0.3" text-anchor="start" textLength="298.80" lengthAdjust="spacingAndGlyphs">UAUGGGUUCUUCCCCAGAACCGGGCUUAAGU</text>
<rect x="303.6" y="409.1" width="273.4" height="138.9" fill="none" stroke="#d1d3d4" stroke-width="1"/>
<text x="504.30" y="425.60" font-size="12.0" fill="#231f20" stroke="#231f20" stroke-width="0.3" text-anchor="start" textLength="66.50" lengthAdjust="spacingAndGlyphs">Broccoli RNA</text>
<text x="71.10" y="488.40" font-size="12.4" fill="#231f20" stroke="#231f20" stroke-width="0.3" text-anchor="start" textLength="21.30" lengthAdjust="spacingAndGlyphs">3’....</text>
<text x="94.40" y="488.40" font-size="12.6" fill="#231f20" stroke="#231f20" stroke-width="0.3" text-anchor="start" textLength="186.80" lengthAdjust="spacingAndGlyphs">GUUAAUGCGAGUGCUAUGGGUUCUU</text>
<text x="281.20" y="488.40" font-size="12.6" fill="#29abe2" stroke="#29abe2" stroke-width="0.3" text-anchor="start" textLength="43.50" lengthAdjust="spacingAndGlyphs">CGCCUC</text>
<text x="270.00" y="476.20" font-size="12.4" fill="#231f20" stroke="#231f20" stroke-width="0.3" text-anchor="start" textLength="9.10" lengthAdjust="spacingAndGlyphs">5’</text>
<text x="282.20" y="476.20" font-size="12.6" fill="#29abe2" stroke="#29abe2" stroke-width="0.3" text-anchor="start" textLength="43.10" lengthAdjust="spacingAndGlyphs">GCGGAG</text>
<line x1="330.68" y1="493.90" x2="330.82" y2="497.90" stroke="#d4d5d6" stroke-width="0.8"/>
<line x1="333.24" y1="507.37" x2="334.76" y2="510.43" stroke="#d4d5d6" stroke-width="0.8"/>
<line x1="340.93" y1="517.99" x2="344.67" y2="520.91" stroke="#d4d5d6" stroke-width="0.8"/>
<line x1="352.22" y1="527.45" x2="353.68" y2="528.85" stroke="#d4d5d6" stroke-width="0.8"/>
<line x1="361.95" y1="534.15" x2="363.45" y2="534.75" stroke="#d4d5d6" stroke-width="0.8"/>
<line x1="373.05" y1="537.31" x2="375.05" y2="537.59" stroke="#d4d5d6" stroke-width="0.8"/>
<line x1="385.00" y1="538.52" x2="386.60" y2="538.58" stroke="#d4d5d6" stroke-width="0.8"/>
<line x1="396.52" y1="537.92" x2="398.98" y2="537.48" stroke="#d4d5d6" stroke-width="0.8"/>
<line x1="408.65" y1="535.04" x2="412.25" y2="533.86" stroke="#d4d5d6" stroke-width="0.8"/>
<line x1="420.54" y1="528.76" x2="422.86" y2="526.44" stroke="#d4d5d6" stroke-width="0.8"/>
<line x1="429.72" y1="519.16" x2="432.78" y2="515.74" stroke="#d4d5d6" stroke-width="0.8"/>
<line x1="438.81" y1="507.80" x2="439.89" y2="506.10" stroke="#d4d5d6" stroke-width="0.8"/>
<line x1="443.90" y1="497.07" x2="444.60" y2="494.43" stroke="#d4d5d6" stroke-width="0.8"/>
<line x1="449.35" y1="493.22" x2="450.45" y2="494.38" stroke="#d4d5d6" stroke-width="0.8"/>
<line x1="467.95" y1="494.31" x2="469.55" y2="492.99" stroke="#d4d5d6" stroke-width="0.8"/>
<line x1="488.40" y1="490.00" x2="489.70" y2="490.00" stroke="#d4d5d6" stroke-width="0.8"/>
<line x1="499.70" y1="490.00" x2="501.00" y2="490.00" stroke="#d4d5d6" stroke-width="0.8"/>
<line x1="511.00" y1="490.19" x2="514.00" y2="490.31" stroke="#d4d5d6" stroke-width="0.8"/>
<line x1="524.00" y1="490.32" x2="528.00" y2="490.18" stroke="#d4d5d6" stroke-width="0.8"/>
<line x1="537.29" y1="492.57" x2="541.71" y2="495.23" stroke="#d4d5d6" stroke-width="0.8"/>
<line x1="550.20" y1="495.09" x2="553.90" y2="492.71" stroke="#d4d5d6" stroke-width="0.8"/>
<line x1="558.59" y1="485.02" x2="559.41" y2="476.68" stroke="#d4d5d6" stroke-width="0.8"/>
<line x1="555.54" y1="469.25" x2="550.36" y2="466.35" stroke="#d4d5d6" stroke-width="0.8"/>
<line x1="541.96" y1="466.85" x2="537.04" y2="470.45" stroke="#d4d5d6" stroke-width="0.8"/>
<line x1="528.01" y1="473.74" x2="524.89" y2="473.96" stroke="#d4d5d6" stroke-width="0.8"/>
<line x1="514.92" y1="473.80" x2="511.88" y2="473.50" stroke="#d4d5d6" stroke-width="0.8"/>
<line x1="491.50" y1="473.16" x2="489.30" y2="473.24" stroke="#d4d5d6" stroke-width="0.8"/>
<line x1="479.30" y1="473.40" x2="476.30" y2="473.40" stroke="#d4d5d6" stroke-width="0.8"/>
<line x1="466.30" y1="473.32" x2="450.70" y2="473.08" stroke="#d4d5d6" stroke-width="0.8"/>
<line x1="443.62" y1="468.45" x2="439.88" y2="460.25" stroke="#d4d5d6" stroke-width="0.8"/>
<line x1="434.83" y1="451.68" x2="430.57" y2="445.92" stroke="#d4d5d6" stroke-width="0.8"/>
<line x1="423.71" y1="438.76" x2="420.69" y2="436.34" stroke="#d4d5d6" stroke-width="0.8"/>
<line x1="412.27" y1="431.08" x2="406.83" y2="428.52" stroke="#d4d5d6" stroke-width="0.8"/>
<line x1="397.34" y1="425.76" x2="394.96" y2="425.44" stroke="#d4d5d6" stroke-width="0.8"/>
<line x1="385.00" y1="424.70" x2="379.50" y2="424.60" stroke="#d4d5d6" stroke-width="0.8"/>
<line x1="369.75" y1="426.06" x2="363.75" y2="428.04" stroke="#d4d5d6" stroke-width="0.8"/>
<line x1="354.89" y1="432.45" x2="350.11" y2="435.75" stroke="#d4d5d6" stroke-width="0.8"/>
<line x1="342.60" y1="442.26" x2="338.90" y2="446.24" stroke="#d4d5d6" stroke-width="0.8"/>
<line x1="333.86" y1="454.62" x2="333.14" y2="456.68" stroke="#d4d5d6" stroke-width="0.8"/>
<line x1="451.00" y1="473.00" x2="466.00" y2="473.00" stroke="#d4d5d6" stroke-width="0.8"/>
<path d="M349.9,442.9 Q372,435 399.9,431.8" stroke="#a0a2a5" stroke-width="0.8" fill="none" stroke-dasharray="2.2,1.6"/>
<line x1="351.80" y1="443.50" x2="353.90" y2="526.50" stroke="#a0a2a5" stroke-width="0.8" stroke-dasharray="2.2,1.6"/>
<line x1="354.50" y1="527.20" x2="401.80" y2="528.60" stroke="#a0a2a5" stroke-width="0.8" stroke-dasharray="2.2,1.6"/>
<line x1="399.90" y1="432.20" x2="401.80" y2="528.80" stroke="#a0a2a5" stroke-width="0.8" stroke-dasharray="2.2,1.6"/>
<polyline points="362.20,435.70 415.80,439.30 428.80,509.10 380.80,530.80 362.20,435.70" stroke="#ef4aa6" stroke-width="1.1" fill="none" stroke-dasharray="2.2,1.3" stroke-linejoin="round"/>
<text x="330.50" y="492.80" font-size="11.6" fill="#231f20" stroke="#231f20" stroke-width="0.4" text-anchor="middle">G</text>
<text x="331.00" y="506.80" font-size="11.6" fill="#231f20" stroke="#231f20" stroke-width="0.4" text-anchor="middle">G</text>
<text x="337.00" y="518.80" font-size="11.6" fill="#231f20" stroke="#231f20" stroke-width="0.4" text-anchor="middle">G</text>
<text x="348.60" y="527.90" font-size="11.6" fill="#231f20" stroke="#231f20" stroke-width="0.4" text-anchor="middle">U</text>
<text x="357.30" y="536.20" font-size="11.6" fill="#ed1c24" stroke="#ed1c24" stroke-width="0.4" text-anchor="middle">G</text>
<text x="368.10" y="540.50" font-size="11.6" fill="#231f20" stroke="#231f20" stroke-width="0.4" text-anchor="middle">U</text>
<text x="380.00" y="542.20" font-size="11.6" fill="#ed1c24" stroke="#ed1c24" stroke-width="0.4" text-anchor="middle">G</text>
<text x="391.60" y="542.70" font-size="11.6" fill="#231f20" stroke="#231f20" stroke-width="0.4" text-anchor="middle">A</text>
<text x="403.90" y="540.50" font-size="11.6" fill="#ed1c24" stroke="#ed1c24" stroke-width="0.4" text-anchor="middle">G</text>
<text x="417.00" y="536.20" font-size="11.6" fill="#231f20" stroke="#231f20" stroke-width="0.4" text-anchor="middle">A</text>
<text x="426.40" y="526.80" font-size="11.6" fill="#231f20" stroke="#231f20" stroke-width="0.4" text-anchor="middle">U</text>
<text x="436.10" y="515.90" font-size="11.6" fill="#ed1c24" stroke="#ed1c24" stroke-width="0.4" text-anchor="middle">G</text>
<text x="442.60" y="505.80" font-size="11.6" fill="#231f20" stroke="#231f20" stroke-width="0.4" text-anchor="middle">A</text>
<text x="445.90" y="493.50" font-size="11.6" fill="#231f20" stroke="#231f20" stroke-width="0.4" text-anchor="middle">G</text>
<text x="453.90" y="501.90" font-size="11.6" fill="#231f20" stroke="#231f20" stroke-width="0.4" text-anchor="middle">C</text>
<text x="464.10" y="501.40" font-size="11.6" fill="#231f20" stroke="#231f20" stroke-width="0.4" text-anchor="middle">U</text>
<text x="473.40" y="493.70" font-size="11.6" fill="#231f20" stroke="#231f20" stroke-width="0.4" text-anchor="middle">G</text>
<text x="483.40" y="493.90" font-size="11.6" fill="#231f20" stroke="#231f20" stroke-width="0.4" text-anchor="middle">U</text>
<text x="494.70" y="493.90" font-size="11.6" fill="#231f20" stroke="#231f20" stroke-width="0.4" text-anchor="middle">C</text>
<text x="506.00" y="493.90" font-size="11.6" fill="#231f20" stroke="#231f20" stroke-width="0.4" text-anchor="middle">U</text>
<text x="519.00" y="494.40" font-size="11.6" fill="#231f20" stroke="#231f20" stroke-width="0.4" text-anchor="middle">A</text>
<text x="533.00" y="493.90" font-size="11.6" fill="#231f20" stroke="#231f20" stroke-width="0.4" text-anchor="middle">U</text>
<text x="546.00" y="501.70" font-size="11.6" fill="#231f20" stroke="#231f20" stroke-width="0.4" text-anchor="middle">G</text>
<text x="558.10" y="493.90" font-size="11.6" fill="#231f20" stroke="#231f20" stroke-width="0.4" text-anchor="middle">C</text>
<text x="559.90" y="475.60" font-size="11.6" fill="#231f20" stroke="#231f20" stroke-width="0.4" text-anchor="middle">U</text>
<text x="546.00" y="467.80" font-size="11.6" fill="#231f20" stroke="#231f20" stroke-width="0.4" text-anchor="middle">U</text>
<text x="533.00" y="477.30" font-size="11.6" fill="#231f20" stroke="#231f20" stroke-width="0.4" text-anchor="middle">A</text>
<text x="519.90" y="478.20" font-size="11.6" fill="#231f20" stroke="#231f20" stroke-width="0.4" text-anchor="middle">U</text>
<text x="506.90" y="476.90" font-size="11.6" fill="#231f20" stroke="#231f20" stroke-width="0.4" text-anchor="middle">A</text>
<text x="496.50" y="476.90" font-size="11.6" fill="#231f20" stroke="#231f20" stroke-width="0.4" text-anchor="middle">G</text>
<text x="484.30" y="477.30" font-size="11.6" fill="#231f20" stroke="#231f20" stroke-width="0.4" text-anchor="middle">A</text>
<text x="471.30" y="477.30" font-size="11.6" fill="#231f20" stroke="#231f20" stroke-width="0.4" text-anchor="middle">C</text>
<text x="445.70" y="476.90" font-size="11.6" fill="#231f20" stroke="#231f20" stroke-width="0.4" text-anchor="middle">C</text>
<text x="437.80" y="459.60" font-size="11.6" fill="#231f20" stroke="#231f20" stroke-width="0.4" text-anchor="middle">U</text>
<text x="427.60" y="445.80" font-size="11.6" fill="#231f20" stroke="#231f20" stroke-width="0.4" text-anchor="middle">G</text>
<text x="416.80" y="437.10" font-size="11.6" fill="#ed1c24" stroke="#ed1c24" stroke-width="0.4" text-anchor="middle">G</text>
<text x="402.30" y="430.30" font-size="11.6" fill="#ed1c24" stroke="#ed1c24" stroke-width="0.4" text-anchor="middle">G</text>
<text x="390.00" y="428.70" font-size="11.6" fill="#231f20" stroke="#231f20" stroke-width="0.4" text-anchor="middle">C</text>
<text x="374.50" y="428.40" font-size="11.6" fill="#231f20" stroke="#231f20" stroke-width="0.4" text-anchor="middle">U</text>
<text x="359.00" y="433.50" font-size="11.6" fill="#ed1c24" stroke="#ed1c24" stroke-width="0.4" text-anchor="middle">G</text>
<text x="346.00" y="442.50" font-size="11.6" fill="#ed1c24" stroke="#ed1c24" stroke-width="0.4" text-anchor="middle">G</text>
<text x="335.50" y="453.80" font-size="11.6" fill="#231f20" stroke="#231f20" stroke-width="0.4" text-anchor="middle">C</text>
<text x="331.50" y="465.30" font-size="11.6" fill="#231f20" stroke="#231f20" stroke-width="0.4" text-anchor="middle">A</text>
<line x1="486.50" y1="523.10" x2="498.10" y2="523.10" stroke="#a0a2a5" stroke-width="0.8" stroke-dasharray="2.2,1.6"/>
<line x1="486.50" y1="540.50" x2="498.10" y2="540.50" stroke="#ec2a90" stroke-width="1.6" stroke-dasharray="2.4,1.4"/>
<text x="504.60" y="526.40" font-size="12.0" fill="#808285" stroke="#808285" stroke-width="0.3" text-anchor="start" textLength="51.40" lengthAdjust="spacingAndGlyphs">Lower GQ</text>
<text x="504.60" y="544.10" font-size="12.0" fill="#ec2a90" stroke="#ec2a90" stroke-width="0.3" text-anchor="start" textLength="51.40" lengthAdjust="spacingAndGlyphs">Upper GQ</text>
<line x1="72.50" y1="568.50" x2="72.50" y2="680.50" stroke="#a7a9ac" stroke-width="1"/>
<line x1="72.50" y1="680.50" x2="605.50" y2="680.50" stroke="#a7a9ac" stroke-width="1"/>
<line x1="72.50" y1="653.50" x2="77.00" y2="653.50" stroke="#bcbec0" stroke-width="1"/>
<line x1="72.50" y1="625.50" x2="77.00" y2="625.50" stroke="#bcbec0" stroke-width="1"/>
<line x1="72.50" y1="597.50" x2="77.00" y2="597.50" stroke="#bcbec0" stroke-width="1"/>
<line x1="72.50" y1="569.50" x2="77.00" y2="569.50" stroke="#bcbec0" stroke-width="1"/>
<line x1="80.30" y1="680.20" x2="80.30" y2="676.50" stroke="#a7a9ac" stroke-width="0.9"/>
<line x1="155.30" y1="680.20" x2="155.30" y2="676.50" stroke="#a7a9ac" stroke-width="0.9"/>
<line x1="230.30" y1="680.20" x2="230.30" y2="676.50" stroke="#a7a9ac" stroke-width="0.9"/>
<line x1="305.30" y1="680.20" x2="305.30" y2="676.50" stroke="#a7a9ac" stroke-width="0.9"/>
<line x1="380.30" y1="680.20" x2="380.30" y2="676.50" stroke="#a7a9ac" stroke-width="0.9"/>
<line x1="455.30" y1="680.20" x2="455.30" y2="676.50" stroke="#a7a9ac" stroke-width="0.9"/>
<line x1="530.30" y1="680.20" x2="530.30" y2="676.50" stroke="#a7a9ac" stroke-width="0.9"/>
<line x1="605.30" y1="680.20" x2="605.30" y2="676.50" stroke="#a7a9ac" stroke-width="0.9"/>
<text x="65.70" y="573.50" font-size="12.4" fill="#231f20" stroke="#231f20" stroke-width="0.3" text-anchor="end" textLength="25.40" lengthAdjust="spacingAndGlyphs">0.20</text>
<text x="65.70" y="601.35" font-size="12.4" fill="#231f20" stroke="#231f20" stroke-width="0.3" text-anchor="end" textLength="25.40" lengthAdjust="spacingAndGlyphs">0.15</text>
<text x="65.70" y="629.20" font-size="12.4" fill="#231f20" stroke="#231f20" stroke-width="0.3" text-anchor="end" textLength="25.40" lengthAdjust="spacingAndGlyphs">0.10</text>
<text x="65.70" y="657.05" font-size="12.4" fill="#231f20" stroke="#231f20" stroke-width="0.3" text-anchor="end" textLength="25.40" lengthAdjust="spacingAndGlyphs">0.05</text>
<text x="63.90" y="685.00" font-size="12.4" fill="#231f20" stroke="#231f20" stroke-width="0.3" text-anchor="end" textLength="6.80" lengthAdjust="spacingAndGlyphs">0</text>
<text x="81.10" y="692.00" font-size="13.2" fill="#231f20" stroke="#231f20" stroke-width="0.3" text-anchor="middle" textLength="7.40" lengthAdjust="spacingAndGlyphs">0</text>
<text x="156.10" y="692.00" font-size="13.2" fill="#231f20" stroke="#231f20" stroke-width="0.3" text-anchor="middle" textLength="15.20" lengthAdjust="spacingAndGlyphs">20</text>
<text x="232.40" y="692.00" font-size="13.2" fill="#231f20" stroke="#231f20" stroke-width="0.3" text-anchor="middle" textLength="15.20" lengthAdjust="spacingAndGlyphs">30</text>
<text x="307.40" y="692.00" font-size="13.2" fill="#231f20" stroke="#231f20" stroke-width="0.3" text-anchor="middle" textLength="15.20" lengthAdjust="spacingAndGlyphs">40</text>
<text x="382.40" y="692.00" font-size="13.2" fill="#231f20" stroke="#231f20" stroke-width="0.3" text-anchor="middle" textLength="15.20" lengthAdjust="spacingAndGlyphs">50</text>
<text x="457.40" y="692.00" font-size="13.2" fill="#231f20" stroke="#231f20" stroke-width="0.3" text-anchor="middle" textLength="15.20" lengthAdjust="spacingAndGlyphs">60</text>
<text x="532.40" y="692.00" font-size="13.2" fill="#231f20" stroke="#231f20" stroke-width="0.3" text-anchor="middle" textLength="15.20" lengthAdjust="spacingAndGlyphs">70</text>
<text x="607.40" y="692.00" font-size="13.2" fill="#231f20" stroke="#231f20" stroke-width="0.3" text-anchor="middle" textLength="15.20" lengthAdjust="spacingAndGlyphs">80</text>
<text transform="translate(17.10,626.80) rotate(-90)" x="0" y="0" font-size="13.0" fill="#231f20" stroke="#231f20" stroke-width="0.3" text-anchor="middle" textLength="120.50" lengthAdjust="spacingAndGlyphs">Average Dwell Time</text>
<text transform="translate(35.10,625.70) rotate(-90)" x="0" y="0" font-size="13.0" fill="#231f20" stroke="#231f20" stroke-width="0.3" text-anchor="middle" textLength="27.40" lengthAdjust="spacingAndGlyphs">(sec)</text>
<text x="305.70" y="705.20" font-size="12.2" fill="#231f20" stroke="#231f20" stroke-width="0.3" text-anchor="start" textLength="75.30" lengthAdjust="spacingAndGlyphs">nucleotide #</text>
<line x1="245.30" y1="560.40" x2="245.30" y2="736.00" stroke="#808285" stroke-width="1.0" stroke-dasharray="3.8,2.8"/>
<polyline points="72.80,665.50 80.30,672.10 87.80,667.80 95.30,667.40 102.80,666.20 110.30,655.60 117.80,639.50 125.30,634.80 132.80,675.20 140.30,669.20 147.80,651.10 155.30,664.90 162.80,671.50 170.30,664.10 177.80,666.20 185.30,669.00 192.80,650.10 200.30,672.10 207.80,664.70 215.30,645.00 222.80,676.10 230.30,668.50 237.80,668.20 245.30,655.70 252.80,623.70 260.30,669.30 267.80,669.60 275.30,666.50 282.80,667.20 290.30,668.00 297.80,670.90 305.30,664.80 312.80,672.70 320.30,658.50 327.80,671.20 335.30,660.00 342.80,667.70 350.30,668.70 357.80,670.40 365.30,636.50 372.80,668.50 380.30,661.90 387.80,669.50 395.30,657.30 402.80,654.20 410.30,657.70 417.80,662.30 425.30,668.40 432.80,672.10 440.30,664.30 447.80,664.80 455.30,655.00 462.80,667.40 470.30,671.80 477.80,670.40 485.30,659.60 492.80,668.50 500.30,664.30 507.80,661.90 515.30,668.30 522.80,649.60 530.30,675.50 537.80,668.10 545.30,657.30 552.80,666.90 560.30,673.60 567.80,670.20 575.30,668.10 582.80,673.70 590.30,671.00 597.80,670.40" stroke="#5b5fb0" stroke-width="0.8" fill="none" stroke-linejoin="round"/>
<polyline points="72.80,666.50 80.30,668.00 87.80,672.40 95.30,668.30 102.80,664.90 110.30,659.70 117.80,646.70 125.30,620.10 132.80,674.00 140.30,664.10 147.80,649.40 155.30,669.30 162.80,666.80 170.30,662.80 177.80,674.80 185.30,670.50 192.80,654.40 200.30,668.30 207.80,668.30 215.30,656.00 222.80,673.60 230.30,671.30 237.80,663.20 245.30,594.80 252.80,630.60 260.30,669.30 267.80,666.00 275.30,662.70 282.80,659.30 290.30,669.00 297.80,670.90 305.30,657.30 312.80,675.80 320.30,650.00 327.80,673.50 335.30,665.40 342.80,662.90 350.30,663.10 357.80,670.60 365.30,647.80 372.80,666.90 380.30,658.10 387.80,663.40 395.30,659.30 402.80,659.00 410.30,659.60 417.80,670.00 425.30,669.90 432.80,670.00 440.30,659.30 447.80,665.10 455.30,657.90 462.80,661.90 470.30,668.90 477.80,666.90 485.30,653.60 492.80,665.40 500.30,662.90 507.80,656.20 515.30,670.40 522.80,643.80 530.30,670.00 537.80,665.80 545.30,663.40 552.80,669.20 560.30,668.50 567.80,669.20 575.30,668.20 582.80,675.60 590.30,666.50 597.80,671.70" stroke="#f26a6f" stroke-width="0.8" fill="none" stroke-linejoin="round"/>
<line x1="117.80" y1="636.80" x2="117.80" y2="642.00" stroke="#2e3192" stroke-width="0.8"/>
<line x1="116.20" y1="636.80" x2="119.40" y2="636.80" stroke="#2e3192" stroke-width="0.8"/>
<line x1="116.20" y1="642.00" x2="119.40" y2="642.00" stroke="#2e3192" stroke-width="0.8"/>
<line x1="125.30" y1="630.90" x2="125.30" y2="640.20" stroke="#2e3192" stroke-width="0.8"/>
<line x1="123.70" y1="630.90" x2="126.90" y2="630.90" stroke="#2e3192" stroke-width="0.8"/>
<line x1="123.70" y1="640.20" x2="126.90" y2="640.20" stroke="#2e3192" stroke-width="0.8"/>
<line x1="215.30" y1="641.40" x2="215.30" y2="648.60" stroke="#2e3192" stroke-width="0.8"/>
<line x1="213.70" y1="641.40" x2="216.90" y2="641.40" stroke="#2e3192" stroke-width="0.8"/>
<line x1="213.70" y1="648.60" x2="216.90" y2="648.60" stroke="#2e3192" stroke-width="0.8"/>
<line x1="245.30" y1="652.00" x2="245.30" y2="659.00" stroke="#2e3192" stroke-width="0.8"/>
<line x1="243.70" y1="652.00" x2="246.90" y2="652.00" stroke="#2e3192" stroke-width="0.8"/>
<line x1="243.70" y1="659.00" x2="246.90" y2="659.00" stroke="#2e3192" stroke-width="0.8"/>
<line x1="252.80" y1="619.70" x2="252.80" y2="627.70" stroke="#2e3192" stroke-width="0.8"/>
<line x1="251.20" y1="619.70" x2="254.40" y2="619.70" stroke="#2e3192" stroke-width="0.8"/>
<line x1="251.20" y1="627.70" x2="254.40" y2="627.70" stroke="#2e3192" stroke-width="0.8"/>
<line x1="110.30" y1="656.90" x2="110.30" y2="664.30" stroke="#ed1c24" stroke-width="0.8"/>
<line x1="108.70" y1="656.90" x2="111.90" y2="656.90" stroke="#ed1c24" stroke-width="0.8"/>
<line x1="108.70" y1="664.30" x2="111.90" y2="664.30" stroke="#ed1c24" stroke-width="0.8"/>
<line x1="117.80" y1="642.60" x2="117.80" y2="651.30" stroke="#ed1c24" stroke-width="0.8"/>
<line x1="116.20" y1="642.60" x2="119.40" y2="642.60" stroke="#ed1c24" stroke-width="0.8"/>
<line x1="116.20" y1="651.30" x2="119.40" y2="651.30" stroke="#ed1c24" stroke-width="0.8"/>
<line x1="125.30" y1="617.20" x2="125.30" y2="622.80" stroke="#ed1c24" stroke-width="0.8"/>
<line x1="123.70" y1="617.20" x2="126.90" y2="617.20" stroke="#ed1c24" stroke-width="0.8"/>
<line x1="123.70" y1="622.80" x2="126.90" y2="622.80" stroke="#ed1c24" stroke-width="0.8"/>
<line x1="245.30" y1="585.30" x2="245.30" y2="605.80" stroke="#ed1c24" stroke-width="0.8"/>
<line x1="243.70" y1="585.30" x2="246.90" y2="585.30" stroke="#ed1c24" stroke-width="0.8"/>
<line x1="243.70" y1="605.80" x2="246.90" y2="605.80" stroke="#ed1c24" stroke-width="0.8"/>
<line x1="252.80" y1="621.00" x2="252.80" y2="641.00" stroke="#ed1c24" stroke-width="0.8"/>
<line x1="251.20" y1="621.00" x2="254.40" y2="621.00" stroke="#ed1c24" stroke-width="0.8"/>
<line x1="251.20" y1="641.00" x2="254.40" y2="641.00" stroke="#ed1c24" stroke-width="0.8"/>
<circle cx="72.80" cy="665.50" r="2.2" fill="#2e3192" stroke="none" stroke-width="1"/>
<circle cx="80.30" cy="672.10" r="2.2" fill="#2e3192" stroke="none" stroke-width="1"/>
<circle cx="87.80" cy="667.80" r="2.2" fill="#2e3192" stroke="none" stroke-width="1"/>
<circle cx="95.30" cy="667.40" r="2.2" fill="#2e3192" stroke="none" stroke-width="1"/>
<circle cx="102.80" cy="666.20" r="2.2" fill="#2e3192" stroke="none" stroke-width="1"/>
<circle cx="110.30" cy="655.60" r="2.2" fill="#2e3192" stroke="none" stroke-width="1"/>
<circle cx="117.80" cy="639.50" r="2.2" fill="#2e3192" stroke="none" stroke-width="1"/>
<circle cx="125.30" cy="634.80" r="2.2" fill="#2e3192" stroke="none" stroke-width="1"/>
<circle cx="132.80" cy="675.20" r="2.2" fill="#2e3192" stroke="none" stroke-width="1"/>
<circle cx="140.30" cy="669.20" r="2.2" fill="#2e3192" stroke="none" stroke-width="1"/>
<circle cx="147.80" cy="651.10" r="2.2" fill="#2e3192" stroke="none" stroke-width="1"/>
<circle cx="155.30" cy="664.90" r="2.2" fill="#2e3192" stroke="none" stroke-width="1"/>
<circle cx="162.80" cy="671.50" r="2.2" fill="#2e3192" stroke="none" stroke-width="1"/>
<circle cx="170.30" cy="664.10" r="2.2" fill="#2e3192" stroke="none" stroke-width="1"/>
<circle cx="177.80" cy="666.20" r="2.2" fill="#2e3192" stroke="none" stroke-width="1"/>
<circle cx="185.30" cy="669.00" r="2.2" fill="#2e3192" stroke="none" stroke-width="1"/>
<circle cx="192.80" cy="650.10" r="2.2" fill="#2e3192" stroke="none" stroke-width="1"/>
<circle cx="200.30" cy="672.10" r="2.2" fill="#2e3192" stroke="none" stroke-width="1"/>
<circle cx="207.80" cy="664.70" r="2.2" fill="#2e3192" stroke="none" stroke-width="1"/>
<circle cx="215.30" cy="645.00" r="2.2" fill="#2e3192" stroke="none" stroke-width="1"/>
<circle cx="222.80" cy="676.10" r="2.2" fill="#2e3192" stroke="none" stroke-width="1"/>
<circle cx="230.30" cy="668.50" r="2.2" fill="#2e3192" stroke="none" stroke-width="1"/>
<circle cx="237.80" cy="668.20" r="2.2" fill="#2e3192" stroke="none" stroke-width="1"/>
<circle cx="245.30" cy="655.70" r="2.2" fill="#2e3192" stroke="none" stroke-width="1"/>
<circle cx="252.80" cy="623.70" r="2.2" fill="#2e3192" stroke="none" stroke-width="1"/>
<circle cx="260.30" cy="669.30" r="2.2" fill="#2e3192" stroke="none" stroke-width="1"/>
<circle cx="267.80" cy="669.60" r="2.2" fill="#2e3192" stroke="none" stroke-width="1"/>
<circle cx="275.30" cy="666.50" r="2.2" fill="#2e3192" stroke="none" stroke-width="1"/>
<circle cx="282.80" cy="667.20" r="2.2" fill="#2e3192" stroke="none" stroke-width="1"/>
<circle cx="290.30" cy="668.00" r="2.2" fill="#2e3192" stroke="none" stroke-width="1"/>
<circle cx="297.80" cy="670.90" r="2.2" fill="#2e3192" stroke="none" stroke-width="1"/>
<circle cx="305.30" cy="664.80" r="2.2" fill="#2e3192" stroke="none" stroke-width="1"/>
<circle cx="312.80" cy="672.70" r="2.2" fill="#2e3192" stroke="none" stroke-width="1"/>
<circle cx="320.30" cy="658.50" r="2.2" fill="#2e3192" stroke="none" stroke-width="1"/>
<circle cx="327.80" cy="671.20" r="2.2" fill="#2e3192" stroke="none" stroke-width="1"/>
<circle cx="335.30" cy="660.00" r="2.2" fill="#2e3192" stroke="none" stroke-width="1"/>
<circle cx="342.80" cy="667.70" r="2.2" fill="#2e3192" stroke="none" stroke-width="1"/>
<circle cx="350.30" cy="668.70" r="2.2" fill="#2e3192" stroke="none" stroke-width="1"/>
<circle cx="357.80" cy="670.40" r="2.2" fill="#2e3192" stroke="none" stroke-width="1"/>
<circle cx="365.30" cy="636.50" r="2.2" fill="#2e3192" stroke="none" stroke-width="1"/>
<circle cx="372.80" cy="668.50" r="2.2" fill="#2e3192" stroke="none" stroke-width="1"/>
<circle cx="380.30" cy="661.90" r="2.2" fill="#2e3192" stroke="none" stroke-width="1"/>
<circle cx="387.80" cy="669.50" r="2.2" fill="#2e3192" stroke="none" stroke-width="1"/>
<circle cx="395.30" cy="657.30" r="2.2" fill="#2e3192" stroke="none" stroke-width="1"/>
<circle cx="402.80" cy="654.20" r="2.2" fill="#2e3192" stroke="none" stroke-width="1"/>
<circle cx="410.30" cy="657.70" r="2.2" fill="#2e3192" stroke="none" stroke-width="1"/>
<circle cx="417.80" cy="662.30" r="2.2" fill="#2e3192" stroke="none" stroke-width="1"/>
<circle cx="425.30" cy="668.40" r="2.2" fill="#2e3192" stroke="none" stroke-width="1"/>
<circle cx="432.80" cy="672.10" r="2.2" fill="#2e3192" stroke="none" stroke-width="1"/>
<circle cx="440.30" cy="664.30" r="2.2" fill="#2e3192" stroke="none" stroke-width="1"/>
<circle cx="447.80" cy="664.80" r="2.2" fill="#2e3192" stroke="none" stroke-width="1"/>
<circle cx="455.30" cy="655.00" r="2.2" fill="#2e3192" stroke="none" stroke-width="1"/>
<circle cx="462.80" cy="667.40" r="2.2" fill="#2e3192" stroke="none" stroke-width="1"/>
<circle cx="470.30" cy="671.80" r="2.2" fill="#2e3192" stroke="none" stroke-width="1"/>
<circle cx="477.80" cy="670.40" r="2.2" fill="#2e3192" stroke="none" stroke-width="1"/>
<circle cx="485.30" cy="659.60" r="2.2" fill="#2e3192" stroke="none" stroke-width="1"/>
<circle cx="492.80" cy="668.50" r="2.2" fill="#2e3192" stroke="none" stroke-width="1"/>
<circle cx="500.30" cy="664.30" r="2.2" fill="#2e3192" stroke="none" stroke-width="1"/>
<circle cx="507.80" cy="661.90" r="2.2" fill="#2e3192" stroke="none" stroke-width="1"/>
<circle cx="515.30" cy="668.30" r="2.2" fill="#2e3192" stroke="none" stroke-width="1"/>
<circle cx="522.80" cy="649.60" r="2.2" fill="#2e3192" stroke="none" stroke-width="1"/>
<circle cx="530.30" cy="675.50" r="2.2" fill="#2e3192" stroke="none" stroke-width="1"/>
<circle cx="537.80" cy="668.10" r="2.2" fill="#2e3192" stroke="none" stroke-width="1"/>
<circle cx="545.30" cy="657.30" r="2.2" fill="#2e3192" stroke="none" stroke-width="1"/>
<circle cx="552.80" cy="666.90" r="2.2" fill="#2e3192" stroke="none" stroke-width="1"/>
<circle cx="560.30" cy="673.60" r="2.2" fill="#2e3192" stroke="none" stroke-width="1"/>
<circle cx="567.80" cy="670.20" r="2.2" fill="#2e3192" stroke="none" stroke-width="1"/>
<circle cx="575.30" cy="668.10" r="2.2" fill="#2e3192" stroke="none" stroke-width="1"/>
<circle cx="582.80" cy="673.70" r="2.2" fill="#2e3192" stroke="none" stroke-width="1"/>
<circle cx="590.30" cy="671.00" r="2.2" fill="#2e3192" stroke="none" stroke-width="1"/>
<circle cx="597.80" cy="670.40" r="2.2" fill="#2e3192" stroke="none" stroke-width="1"/>
<circle cx="72.80" cy="666.50" r="2.2" fill="#ed1c24" stroke="none" stroke-width="1"/>
<circle cx="80.30" cy="668.00" r="2.2" fill="#ed1c24" stroke="none" stroke-width="1"/>
<circle cx="87.80" cy="672.40" r="2.2" fill="#ed1c24" stroke="none" stroke-width="1"/>
<circle cx="95.30" cy="668.30" r="2.2" fill="#ed1c24" stroke="none" stroke-width="1"/>
<circle cx="102.80" cy="664.90" r="2.2" fill="#ed1c24" stroke="none" stroke-width="1"/>
<circle cx="110.30" cy="659.70" r="2.2" fill="#ed1c24" stroke="none" stroke-width="1"/>
<circle cx="117.80" cy="646.70" r="2.2" fill="#ed1c24" stroke="none" stroke-width="1"/>
<circle cx="125.30" cy="620.10" r="2.2" fill="#ed1c24" stroke="none" stroke-width="1"/>
<circle cx="132.80" cy="674.00" r="2.2" fill="#ed1c24" stroke="none" stroke-width="1"/>
<circle cx="140.30" cy="664.10" r="2.2" fill="#ed1c24" stroke="none" stroke-width="1"/>
<circle cx="147.80" cy="649.40" r="2.2" fill="#ed1c24" stroke="none" stroke-width="1"/>
<circle cx="155.30" cy="669.30" r="2.2" fill="#ed1c24" stroke="none" stroke-width="1"/>
<circle cx="162.80" cy="666.80" r="2.2" fill="#ed1c24" stroke="none" stroke-width="1"/>
<circle cx="170.30" cy="662.80" r="2.2" fill="#ed1c24" stroke="none" stroke-width="1"/>
<circle cx="177.80" cy="674.80" r="2.2" fill="#ed1c24" stroke="none" stroke-width="1"/>
<circle cx="185.30" cy="670.50" r="2.2" fill="#ed1c24" stroke="none" stroke-width="1"/>
<circle cx="192.80" cy="654.40" r="2.2" fill="#ed1c24" stroke="none" stroke-width="1"/>
<circle cx="200.30" cy="668.30" r="2.2" fill="#ed1c24" stroke="none" stroke-width="1"/>
<circle cx="207.80" cy="668.30" r="2.2" fill="#ed1c24" stroke="none" stroke-width="1"/>
<circle cx="215.30" cy="656.00" r="2.2" fill="#ed1c24" stroke="none" stroke-width="1"/>
<circle cx="222.80" cy="673.60" r="2.2" fill="#ed1c24" stroke="none" stroke-width="1"/>
<circle cx="230.30" cy="671.30" r="2.2" fill="#ed1c24" stroke="none" stroke-width="1"/>
<circle cx="237.80" cy="663.20" r="2.2" fill="#ed1c24" stroke="none" stroke-width="1"/>
<circle cx="245.30" cy="594.80" r="2.2" fill="#ed1c24" stroke="none" stroke-width="1"/>
<circle cx="252.80" cy="630.60" r="2.2" fill="#ed1c24" stroke="none" stroke-width="1"/>
<circle cx="260.30" cy="669.30" r="2.2" fill="#ed1c24" stroke="none" stroke-width="1"/>
<circle cx="267.80" cy="666.00" r="2.2" fill="#ed1c24" stroke="none" stroke-width="1"/>
<circle cx="275.30" cy="662.70" r="2.2" fill="#ed1c24" stroke="none" stroke-width="1"/>
<circle cx="282.80" cy="659.30" r="2.2" fill="#ed1c24" stroke="none" stroke-width="1"/>
<circle cx="290.30" cy="669.00" r="2.2" fill="#ed1c24" stroke="none" stroke-width="1"/>
<circle cx="297.80" cy="670.90" r="2.2" fill="#ed1c24" stroke="none" stroke-width="1"/>
<circle cx="305.30" cy="657.30" r="2.2" fill="#ed1c24" stroke="none" stroke-width="1"/>
<circle cx="312.80" cy="675.80" r="2.2" fill="#ed1c24" stroke="none" stroke-width="1"/>
<circle cx="320.30" cy="650.00" r="2.2" fill="#ed1c24" stroke="none" stroke-width="1"/>
<circle cx="327.80" cy="673.50" r="2.2" fill="#ed1c24" stroke="none" stroke-width="1"/>
<circle cx="335.30" cy="665.40" r="2.2" fill="#ed1c24" stroke="none" stroke-width="1"/>
<circle cx="342.80" cy="662.90" r="2.2" fill="#ed1c24" stroke="none" stroke-width="1"/>
<circle cx="350.30" cy="663.10" r="2.2" fill="#ed1c24" stroke="none" stroke-width="1"/>
<circle cx="357.80" cy="670.60" r="2.2" fill="#ed1c24" stroke="none" stroke-width="1"/>
<circle cx="365.30" cy="647.80" r="2.2" fill="#ed1c24" stroke="none" stroke-width="1"/>
<circle cx="372.80" cy="666.90" r="2.2" fill="#ed1c24" stroke="none" stroke-width="1"/>
<circle cx="380.30" cy="658.10" r="2.2" fill="#ed1c24" stroke="none" stroke-width="1"/>
<circle cx="387.80" cy="663.40" r="2.2" fill="#ed1c24" stroke="none" stroke-width="1"/>
<circle cx="395.30" cy="659.30" r="2.2" fill="#ed1c24" stroke="none" stroke-width="1"/>
<circle cx="402.80" cy="659.00" r="2.2" fill="#ed1c24" stroke="none" stroke-width="1"/>
<circle cx="410.30" cy="659.60" r="2.2" fill="#ed1c24" stroke="none" stroke-width="1"/>
<circle cx="417.80" cy="670.00" r="2.2" fill="#ed1c24" stroke="none" stroke-width="1"/>
<circle cx="425.30" cy="669.90" r="2.2" fill="#ed1c24" stroke="none" stroke-width="1"/>
<circle cx="432.80" cy="670.00" r="2.2" fill="#ed1c24" stroke="none" stroke-width="1"/>
<circle cx="440.30" cy="659.30" r="2.2" fill="#ed1c24" stroke="none" stroke-width="1"/>
<circle cx="447.80" cy="665.10" r="2.2" fill="#ed1c24" stroke="none" stroke-width="1"/>
<circle cx="455.30" cy="657.90" r="2.2" fill="#ed1c24" stroke="none" stroke-width="1"/>
<circle cx="462.80" cy="661.90" r="2.2" fill="#ed1c24" stroke="none" stroke-width="1"/>
<circle cx="470.30" cy="668.90" r="2.2" fill="#ed1c24" stroke="none" stroke-width="1"/>
<circle cx="477.80" cy="666.90" r="2.2" fill="#ed1c24" stroke="none" stroke-width="1"/>
<circle cx="485.30" cy="653.60" r="2.2" fill="#ed1c24" stroke="none" stroke-width="1"/>
<circle cx="492.80" cy="665.40" r="2.2" fill="#ed1c24" stroke="none" stroke-width="1"/>
<circle cx="500.30" cy="662.90" r="2.2" fill="#ed1c24" stroke="none" stroke-width="1"/>
<circle cx="507.80" cy="656.20" r="2.2" fill="#ed1c24" stroke="none" stroke-width="1"/>
<circle cx="515.30" cy="670.40" r="2.2" fill="#ed1c24" stroke="none" stroke-width="1"/>
<circle cx="522.80" cy="643.80" r="2.2" fill="#ed1c24" stroke="none" stroke-width="1"/>
<circle cx="530.30" cy="670.00" r="2.2" fill="#ed1c24" stroke="none" stroke-width="1"/>
<circle cx="537.80" cy="665.80" r="2.2" fill="#ed1c24" stroke="none" stroke-width="1"/>
<circle cx="545.30" cy="663.40" r="2.2" fill="#ed1c24" stroke="none" stroke-width="1"/>
<circle cx="552.80" cy="669.20" r="2.2" fill="#ed1c24" stroke="none" stroke-width="1"/>
<circle cx="560.30" cy="668.50" r="2.2" fill="#ed1c24" stroke="none" stroke-width="1"/>
<circle cx="567.80" cy="669.20" r="2.2" fill="#ed1c24" stroke="none" stroke-width="1"/>
<circle cx="575.30" cy="668.20" r="2.2" fill="#ed1c24" stroke="none" stroke-width="1"/>
<circle cx="582.80" cy="675.60" r="2.2" fill="#ed1c24" stroke="none" stroke-width="1"/>
<circle cx="590.30" cy="666.50" r="2.2" fill="#ed1c24" stroke="none" stroke-width="1"/>
<circle cx="597.80" cy="671.70" r="2.2" fill="#ed1c24" stroke="none" stroke-width="1"/>
<circle cx="397.20" cy="581.60" r="2.9" fill="#ed1c24" stroke="none" stroke-width="1"/>
<circle cx="397.30" cy="597.80" r="2.9" fill="#2e3192" stroke="none" stroke-width="1"/>
<text x="405.80" y="584.80" font-size="12.0" fill="#231f20" stroke="#231f20" stroke-width="0.3" text-anchor="start" textLength="141.40" lengthAdjust="spacingAndGlyphs">Broccoli RNA with BI ligand</text>
<text x="404.30" y="601.50" font-size="12.0" fill="#231f20" stroke="#231f20" stroke-width="0.3" text-anchor="start" textLength="159.60" lengthAdjust="spacingAndGlyphs">Broccoli RNA without BI ligand</text>
<text x="52.00" y="720.30" font-size="12.4" fill="#231f20" stroke="#231f20" stroke-width="0.3" text-anchor="start" textLength="21.30" lengthAdjust="spacingAndGlyphs">3’....</text>
<text x="80.30" y="720.30" font-size="12.6" fill="#231f20" stroke="#231f20" stroke-width="0.3" text-anchor="middle" textLength="7.56" lengthAdjust="spacingAndGlyphs">G</text>
<text x="87.80" y="720.30" font-size="12.6" fill="#231f20" stroke="#231f20" stroke-width="0.3" text-anchor="middle" textLength="6.55" lengthAdjust="spacingAndGlyphs">U</text>
<text x="95.30" y="720.30" font-size="12.6" fill="#231f20" stroke="#231f20" stroke-width="0.3" text-anchor="middle" textLength="6.55" lengthAdjust="spacingAndGlyphs">U</text>
<text x="102.80" y="720.30" font-size="12.6" fill="#231f20" stroke="#231f20" stroke-width="0.3" text-anchor="middle" textLength="6.55" lengthAdjust="spacingAndGlyphs">A</text>
<text x="110.30" y="720.30" font-size="12.6" fill="#231f20" stroke="#231f20" stroke-width="0.3" text-anchor="middle" textLength="6.55" lengthAdjust="spacingAndGlyphs">A</text>
<text x="117.80" y="720.30" font-size="12.6" fill="#231f20" stroke="#231f20" stroke-width="0.3" text-anchor="middle" textLength="6.55" lengthAdjust="spacingAndGlyphs">U</text>
<text x="125.30" y="720.30" font-size="12.6" fill="#231f20" stroke="#231f20" stroke-width="0.3" text-anchor="middle" textLength="7.56" lengthAdjust="spacingAndGlyphs">G</text>
<text x="132.80" y="720.30" font-size="12.6" fill="#231f20" stroke="#231f20" stroke-width="0.3" text-anchor="middle" textLength="7.56" lengthAdjust="spacingAndGlyphs">C</text>
<text x="140.30" y="720.30" font-size="12.6" fill="#231f20" stroke="#231f20" stroke-width="0.3" text-anchor="middle" textLength="7.56" lengthAdjust="spacingAndGlyphs">G</text>
<text x="147.80" y="720.30" font-size="12.6" fill="#231f20" stroke="#231f20" stroke-width="0.3" text-anchor="middle" textLength="6.55" lengthAdjust="spacingAndGlyphs">A</text>
<text x="155.30" y="720.30" font-size="12.6" fill="#231f20" stroke="#231f20" stroke-width="0.3" text-anchor="middle" textLength="7.56" lengthAdjust="spacingAndGlyphs">G</text>
<text x="162.80" y="720.30" font-size="12.6" fill="#231f20" stroke="#231f20" stroke-width="0.3" text-anchor="middle" textLength="6.55" lengthAdjust="spacingAndGlyphs">U</text>
<text x="170.30" y="720.30" font-size="12.6" fill="#231f20" stroke="#231f20" stroke-width="0.3" text-anchor="middle" textLength="7.56" lengthAdjust="spacingAndGlyphs">G</text>
<text x="177.80" y="720.30" font-size="12.6" fill="#231f20" stroke="#231f20" stroke-width="0.3" text-anchor="middle" textLength="7.56" lengthAdjust="spacingAndGlyphs">C</text>
<text x="185.30" y="720.30" font-size="12.6" fill="#231f20" stroke="#231f20" stroke-width="0.3" text-anchor="middle" textLength="6.55" lengthAdjust="spacingAndGlyphs">U</text>
<text x="192.80" y="720.30" font-size="12.6" fill="#231f20" stroke="#231f20" stroke-width="0.3" text-anchor="middle" textLength="6.55" lengthAdjust="spacingAndGlyphs">A</text>
<text x="200.30" y="720.30" font-size="12.6" fill="#231f20" stroke="#231f20" stroke-width="0.3" text-anchor="middle" textLength="6.55" lengthAdjust="spacingAndGlyphs">U</text>
<text x="207.80" y="720.30" font-size="12.6" fill="#231f20" stroke="#231f20" stroke-width="0.3" text-anchor="middle" textLength="7.56" lengthAdjust="spacingAndGlyphs">G</text>
<text x="215.30" y="720.30" font-size="12.6" fill="#231f20" stroke="#231f20" stroke-width="0.3" text-anchor="middle" textLength="7.56" lengthAdjust="spacingAndGlyphs">G</text>
<text x="222.80" y="720.30" font-size="12.6" fill="#231f20" stroke="#231f20" stroke-width="0.3" text-anchor="middle" textLength="7.56" lengthAdjust="spacingAndGlyphs">G</text>
<text x="230.30" y="720.30" font-size="12.6" fill="#231f20" stroke="#231f20" stroke-width="0.3" text-anchor="middle" textLength="6.55" lengthAdjust="spacingAndGlyphs">U</text>
<text x="237.80" y="720.30" font-size="12.6" fill="#231f20" stroke="#231f20" stroke-width="0.3" text-anchor="middle" textLength="6.55" lengthAdjust="spacingAndGlyphs">U</text>
<text x="245.30" y="720.30" font-size="12.6" fill="#231f20" stroke="#231f20" stroke-width="0.3" text-anchor="middle" textLength="7.56" lengthAdjust="spacingAndGlyphs">C</text>
<text x="252.80" y="720.30" font-size="12.6" fill="#231f20" stroke="#231f20" stroke-width="0.3" text-anchor="middle" textLength="6.55" lengthAdjust="spacingAndGlyphs">U</text>
<text x="260.30" y="720.30" font-size="12.6" fill="#231f20" stroke="#231f20" stroke-width="0.3" text-anchor="middle" textLength="6.55" lengthAdjust="spacingAndGlyphs">U</text>
<text x="267.80" y="720.30" font-size="12.6" fill="#29abe2" stroke="#29abe2" stroke-width="0.3" text-anchor="middle" textLength="7.56" lengthAdjust="spacingAndGlyphs">C</text>
<text x="275.30" y="720.30" font-size="12.6" fill="#29abe2" stroke="#29abe2" stroke-width="0.3" text-anchor="middle" textLength="7.56" lengthAdjust="spacingAndGlyphs">G</text>
<text x="282.80" y="720.30" font-size="12.6" fill="#29abe2" stroke="#29abe2" stroke-width="0.3" text-anchor="middle" textLength="7.56" lengthAdjust="spacingAndGlyphs">C</text>
<text x="290.30" y="720.30" font-size="12.6" fill="#29abe2" stroke="#29abe2" stroke-width="0.3" text-anchor="middle" textLength="7.56" lengthAdjust="spacingAndGlyphs">C</text>
<text x="297.80" y="720.30" font-size="12.6" fill="#29abe2" stroke="#29abe2" stroke-width="0.3" text-anchor="middle" textLength="6.55" lengthAdjust="spacingAndGlyphs">U</text>
<text x="305.30" y="720.30" font-size="12.6" fill="#29abe2" stroke="#29abe2" stroke-width="0.3" text-anchor="middle" textLength="7.56" lengthAdjust="spacingAndGlyphs">C</text>
<text x="312.80" y="720.30" font-size="12.6" fill="#231f20" stroke="#231f20" stroke-width="0.3" text-anchor="middle" textLength="7.56" lengthAdjust="spacingAndGlyphs">G</text>
<text x="320.30" y="720.30" font-size="12.6" fill="#231f20" stroke="#231f20" stroke-width="0.3" text-anchor="middle" textLength="7.56" lengthAdjust="spacingAndGlyphs">G</text>
<text x="327.80" y="720.30" font-size="12.6" fill="#231f20" stroke="#231f20" stroke-width="0.3" text-anchor="middle" textLength="7.56" lengthAdjust="spacingAndGlyphs">G</text>
<text x="335.30" y="720.30" font-size="12.6" fill="#231f20" stroke="#231f20" stroke-width="0.3" text-anchor="middle" textLength="6.55" lengthAdjust="spacingAndGlyphs">U</text>
<text x="342.80" y="720.30" font-size="12.6" fill="#ed1c24" stroke="#ed1c24" stroke-width="0.3" text-anchor="middle" textLength="7.56" lengthAdjust="spacingAndGlyphs">G</text>
<text x="350.30" y="720.30" font-size="12.6" fill="#231f20" stroke="#231f20" stroke-width="0.3" text-anchor="middle" textLength="6.55" lengthAdjust="spacingAndGlyphs">U</text>
<text x="357.80" y="720.30" font-size="12.6" fill="#ed1c24" stroke="#ed1c24" stroke-width="0.3" text-anchor="middle" textLength="7.56" lengthAdjust="spacingAndGlyphs">G</text>
<text x="365.30" y="720.30" font-size="12.6" fill="#231f20" stroke="#231f20" stroke-width="0.3" text-anchor="middle" textLength="6.55" lengthAdjust="spacingAndGlyphs">A</text>
<text x="372.80" y="720.30" font-size="12.6" fill="#ed1c24" stroke="#ed1c24" stroke-width="0.3" text-anchor="middle" textLength="7.56" lengthAdjust="spacingAndGlyphs">G</text>
<text x="380.30" y="720.30" font-size="12.6" fill="#231f20" stroke="#231f20" stroke-width="0.3" text-anchor="middle" textLength="6.55" lengthAdjust="spacingAndGlyphs">A</text>
<text x="387.80" y="720.30" font-size="12.6" fill="#231f20" stroke="#231f20" stroke-width="0.3" text-anchor="middle" textLength="6.55" lengthAdjust="spacingAndGlyphs">U</text>
<text x="395.30" y="720.30" font-size="12.6" fill="#ed1c24" stroke="#ed1c24" stroke-width="0.3" text-anchor="middle" textLength="7.56" lengthAdjust="spacingAndGlyphs">G</text>
<text x="402.80" y="720.30" font-size="12.6" fill="#231f20" stroke="#231f20" stroke-width="0.3" text-anchor="middle" textLength="6.55" lengthAdjust="spacingAndGlyphs">A</text>
<text x="410.30" y="720.30" font-size="12.6" fill="#231f20" stroke="#231f20" stroke-width="0.3" text-anchor="middle" textLength="7.56" lengthAdjust="spacingAndGlyphs">G</text>
<text x="417.80" y="720.30" font-size="12.6" fill="#231f20" stroke="#231f20" stroke-width="0.3" text-anchor="middle" textLength="7.56" lengthAdjust="spacingAndGlyphs">C</text>
<text x="425.30" y="720.30" font-size="12.6" fill="#231f20" stroke="#231f20" stroke-width="0.3" text-anchor="middle" textLength="6.55" lengthAdjust="spacingAndGlyphs">U</text>
<text x="432.80" y="720.30" font-size="12.6" fill="#231f20" stroke="#231f20" stroke-width="0.3" text-anchor="middle" textLength="7.56" lengthAdjust="spacingAndGlyphs">G</text>
<text x="440.30" y="720.30" font-size="12.6" fill="#231f20" stroke="#231f20" stroke-width="0.3" text-anchor="middle" textLength="6.55" lengthAdjust="spacingAndGlyphs">U</text>
<text x="447.80" y="720.30" font-size="12.6" fill="#231f20" stroke="#231f20" stroke-width="0.3" text-anchor="middle" textLength="7.56" lengthAdjust="spacingAndGlyphs">C</text>
<text x="455.30" y="720.30" font-size="12.6" fill="#231f20" stroke="#231f20" stroke-width="0.3" text-anchor="middle" textLength="6.55" lengthAdjust="spacingAndGlyphs">U</text>
<text x="462.80" y="720.30" font-size="12.6" fill="#231f20" stroke="#231f20" stroke-width="0.3" text-anchor="middle" textLength="6.55" lengthAdjust="spacingAndGlyphs">A</text>
<text x="470.30" y="720.30" font-size="12.6" fill="#231f20" stroke="#231f20" stroke-width="0.3" text-anchor="middle" textLength="6.55" lengthAdjust="spacingAndGlyphs">U</text>
<text x="477.80" y="720.30" font-size="12.6" fill="#231f20" stroke="#231f20" stroke-width="0.3" text-anchor="middle" textLength="7.56" lengthAdjust="spacingAndGlyphs">G</text>
<text x="485.30" y="720.30" font-size="12.6" fill="#231f20" stroke="#231f20" stroke-width="0.3" text-anchor="middle" textLength="7.56" lengthAdjust="spacingAndGlyphs">C</text>
<text x="492.80" y="720.30" font-size="12.6" fill="#231f20" stroke="#231f20" stroke-width="0.3" text-anchor="middle" textLength="6.55" lengthAdjust="spacingAndGlyphs">U</text>
<text x="500.30" y="720.30" font-size="12.6" fill="#231f20" stroke="#231f20" stroke-width="0.3" text-anchor="middle" textLength="6.55" lengthAdjust="spacingAndGlyphs">U</text>
<text x="507.80" y="720.30" font-size="12.6" fill="#231f20" stroke="#231f20" stroke-width="0.3" text-anchor="middle" textLength="6.55" lengthAdjust="spacingAndGlyphs">A</text>
<text x="515.30" y="720.30" font-size="12.6" fill="#231f20" stroke="#231f20" stroke-width="0.3" text-anchor="middle" textLength="6.55" lengthAdjust="spacingAndGlyphs">U</text>
<text x="522.80" y="720.30" font-size="12.6" fill="#231f20" stroke="#231f20" stroke-width="0.3" text-anchor="middle" textLength="6.55" lengthAdjust="spacingAndGlyphs">A</text>
<text x="530.30" y="720.30" font-size="12.6" fill="#231f20" stroke="#231f20" stroke-width="0.3" text-anchor="middle" textLength="7.56" lengthAdjust="spacingAndGlyphs">G</text>
<text x="537.80" y="720.30" font-size="12.6" fill="#231f20" stroke="#231f20" stroke-width="0.3" text-anchor="middle" textLength="6.55" lengthAdjust="spacingAndGlyphs">A</text>
<text x="545.30" y="720.30" font-size="12.6" fill="#231f20" stroke="#231f20" stroke-width="0.3" text-anchor="middle" textLength="7.56" lengthAdjust="spacingAndGlyphs">C</text>
<text x="552.80" y="720.30" font-size="12.6" fill="#231f20" stroke="#231f20" stroke-width="0.3" text-anchor="middle" textLength="7.56" lengthAdjust="spacingAndGlyphs">C</text>
<text x="560.30" y="720.30" font-size="12.6" fill="#231f20" stroke="#231f20" stroke-width="0.3" text-anchor="middle" textLength="6.55" lengthAdjust="spacingAndGlyphs">U</text>
<text x="567.80" y="720.30" font-size="12.6" fill="#231f20" stroke="#231f20" stroke-width="0.3" text-anchor="middle" textLength="7.56" lengthAdjust="spacingAndGlyphs">G</text>
<text x="575.30" y="720.30" font-size="12.6" fill="#ed1c24" stroke="#ed1c24" stroke-width="0.3" text-anchor="middle" textLength="7.56" lengthAdjust="spacingAndGlyphs">G</text>
<text x="582.80" y="720.30" font-size="12.6" fill="#ed1c24" stroke="#ed1c24" stroke-width="0.3" text-anchor="middle" textLength="7.56" lengthAdjust="spacingAndGlyphs">G</text>
<text x="590.30" y="720.30" font-size="12.6" fill="#231f20" stroke="#231f20" stroke-width="0.3" text-anchor="middle" textLength="7.56" lengthAdjust="spacingAndGlyphs">C</text>
<text x="597.80" y="720.30" font-size="12.6" fill="#231f20" stroke="#231f20" stroke-width="0.3" text-anchor="middle" textLength="6.55" lengthAdjust="spacingAndGlyphs">U</text>
<text x="605.30" y="720.30" font-size="12.6" fill="#ed1c24" stroke="#ed1c24" stroke-width="0.3" text-anchor="middle" textLength="7.56" lengthAdjust="spacingAndGlyphs">G</text>
<text x="612.80" y="720.30" font-size="12.6" fill="#ed1c24" stroke="#ed1c24" stroke-width="0.3" text-anchor="middle" textLength="7.56" lengthAdjust="spacingAndGlyphs">G</text>
<text x="620.30" y="720.30" font-size="12.6" fill="#231f20" stroke="#231f20" stroke-width="0.3" text-anchor="middle" textLength="7.56" lengthAdjust="spacingAndGlyphs">C</text>
<text x="627.80" y="720.30" font-size="12.6" fill="#231f20" stroke="#231f20" stroke-width="0.3" text-anchor="middle" textLength="6.55" lengthAdjust="spacingAndGlyphs">A</text>
<text x="635.30" y="720.30" font-size="12.6" fill="#29abe2" stroke="#29abe2" stroke-width="0.3" text-anchor="middle" textLength="7.56" lengthAdjust="spacingAndGlyphs">G</text>
<text x="642.80" y="720.30" font-size="12.6" fill="#29abe2" stroke="#29abe2" stroke-width="0.3" text-anchor="middle" textLength="6.55" lengthAdjust="spacingAndGlyphs">A</text>
<text x="650.30" y="720.30" font-size="12.6" fill="#29abe2" stroke="#29abe2" stroke-width="0.3" text-anchor="middle" textLength="7.56" lengthAdjust="spacingAndGlyphs">G</text>
<text x="657.80" y="720.30" font-size="12.6" fill="#29abe2" stroke="#29abe2" stroke-width="0.3" text-anchor="middle" textLength="7.56" lengthAdjust="spacingAndGlyphs">G</text>
<text x="665.30" y="720.30" font-size="12.6" fill="#29abe2" stroke="#29abe2" stroke-width="0.3" text-anchor="middle" textLength="7.56" lengthAdjust="spacingAndGlyphs">C</text>
<text x="672.80" y="720.30" font-size="12.6" fill="#29abe2" stroke="#29abe2" stroke-width="0.3" text-anchor="middle" textLength="7.56" lengthAdjust="spacingAndGlyphs">G</text>
<text x="679.60" y="720.30" font-size="12.4" fill="#231f20" stroke="#231f20" stroke-width="0.3" text-anchor="start" textLength="9.20" lengthAdjust="spacingAndGlyphs">5’</text>
<line x1="342.70" y1="723.00" x2="342.70" y2="751.40" stroke="#808285" stroke-width="0.8" stroke-dasharray="2.4,1.7"/>
<line x1="375.10" y1="723.00" x2="375.10" y2="751.40" stroke="#808285" stroke-width="0.8" stroke-dasharray="2.4,1.7"/>
<line x1="583.70" y1="723.00" x2="583.70" y2="751.40" stroke="#808285" stroke-width="0.8" stroke-dasharray="2.4,1.7"/>
<line x1="614.30" y1="723.00" x2="614.30" y2="751.40" stroke="#808285" stroke-width="0.8" stroke-dasharray="2.4,1.7"/>
<line x1="342.70" y1="751.40" x2="614.30" y2="751.40" stroke="#808285" stroke-width="0.8" stroke-dasharray="2.4,1.7"/>
<line x1="359.40" y1="723.00" x2="359.40" y2="737.60" stroke="#ec2a90" stroke-width="1.3" stroke-dasharray="2.4,1.4"/>
<line x1="394.60" y1="723.00" x2="394.60" y2="737.60" stroke="#ec2a90" stroke-width="1.3" stroke-dasharray="2.4,1.4"/>
<line x1="575.60" y1="723.00" x2="575.60" y2="737.60" stroke="#ec2a90" stroke-width="1.3" stroke-dasharray="2.4,1.4"/>
<line x1="606.20" y1="723.00" x2="606.20" y2="737.60" stroke="#ec2a90" stroke-width="1.3" stroke-dasharray="2.4,1.4"/>
<line x1="359.40" y1="737.60" x2="606.20" y2="737.60" stroke="#ec2a90" stroke-width="1.3" stroke-dasharray="2.4,1.4"/>
<text x="464.60" y="734.40" font-size="12.2" fill="#ec2a90" stroke="#ec2a90" stroke-width="0.3" text-anchor="start" textLength="52.80" lengthAdjust="spacingAndGlyphs">Upper GQ</text>
<text x="464.60" y="763.00" font-size="12.2" fill="#808285" stroke="#808285" stroke-width="0.3" text-anchor="start" textLength="51.40" lengthAdjust="spacingAndGlyphs">Lower GQ</text>
<text x="232.70" y="745.70" font-size="11.8" fill="#231f20" stroke="#231f20" stroke-width="0.3" text-anchor="start" textLength="51.20" lengthAdjust="spacingAndGlyphs">Pause site</text>
</svg>
</body></html>
